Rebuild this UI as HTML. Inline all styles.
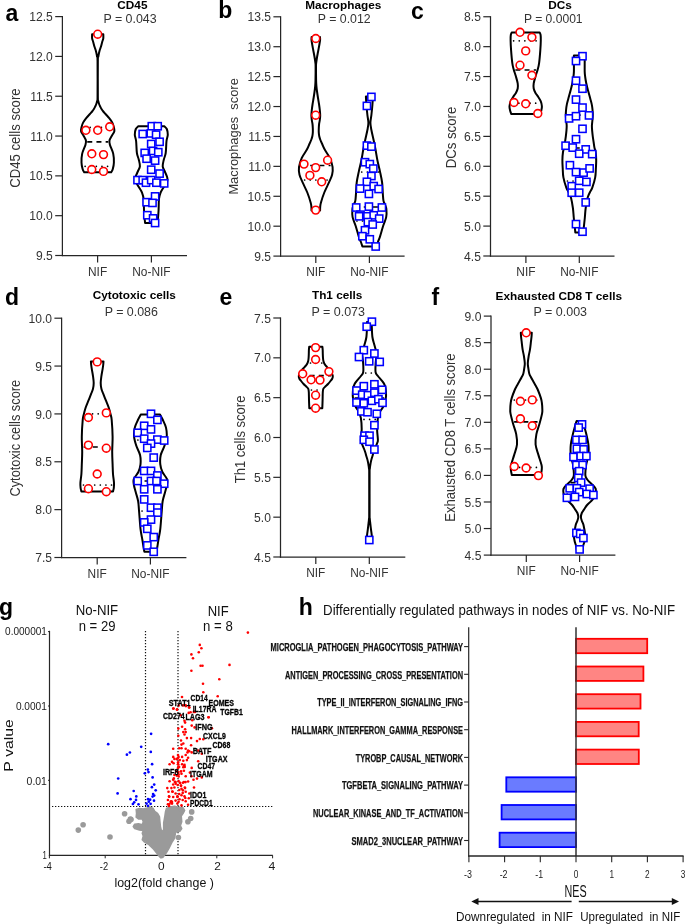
<!DOCTYPE html>
<html><head><meta charset="utf-8"><title>Figure</title>
<style>html,body{margin:0;padding:0;background:#fff;width:685px;height:924px;overflow:hidden}svg{display:block;will-change:transform}text{font-family:"Liberation Sans",sans-serif}</style>
</head><body>
<svg width="685" height="924" viewBox="0 0 685 924" font-family='"Liberation Sans", sans-serif'>
<rect width="685" height="924" fill="#fff"/>
<text x="5.50" y="20.60" font-size="23" fill="#000" font-weight="bold">a</text>
<text x="132.40" y="8.70" font-size="11.8" fill="#000" font-weight="bold" text-anchor="middle">CD45</text>
<text x="130.00" y="23.20" font-size="11.9" fill="#333" text-anchor="middle" textLength="53.20" lengthAdjust="spacingAndGlyphs">P = 0.043</text>
<line x1="62.40" y1="16.00" x2="62.40" y2="256.10" stroke="#262626" stroke-width="1.25"/>
<line x1="61.80" y1="255.50" x2="187.00" y2="255.50" stroke="#262626" stroke-width="1.25"/>
<line x1="55.20" y1="16.60" x2="62.40" y2="16.60" stroke="#262626" stroke-width="1.2"/>
<text x="52.80" y="21.20" font-size="12.1" fill="#333" text-anchor="end">12.5</text>
<line x1="55.20" y1="56.42" x2="62.40" y2="56.42" stroke="#262626" stroke-width="1.2"/>
<text x="52.80" y="61.02" font-size="12.1" fill="#333" text-anchor="end">12.0</text>
<line x1="55.20" y1="96.23" x2="62.40" y2="96.23" stroke="#262626" stroke-width="1.2"/>
<text x="52.80" y="100.83" font-size="12.1" fill="#333" text-anchor="end">11.5</text>
<line x1="55.20" y1="136.05" x2="62.40" y2="136.05" stroke="#262626" stroke-width="1.2"/>
<text x="52.80" y="140.65" font-size="12.1" fill="#333" text-anchor="end">11.0</text>
<line x1="55.20" y1="175.87" x2="62.40" y2="175.87" stroke="#262626" stroke-width="1.2"/>
<text x="52.80" y="180.47" font-size="12.1" fill="#333" text-anchor="end">10.5</text>
<line x1="55.20" y1="215.68" x2="62.40" y2="215.68" stroke="#262626" stroke-width="1.2"/>
<text x="52.80" y="220.28" font-size="12.1" fill="#333" text-anchor="end">10.0</text>
<line x1="55.20" y1="255.50" x2="62.40" y2="255.50" stroke="#262626" stroke-width="1.2"/>
<text x="52.80" y="260.10" font-size="12.1" fill="#333" text-anchor="end">9.5</text>
<line x1="97.60" y1="255.50" x2="97.60" y2="262.50" stroke="#262626" stroke-width="1.2"/>
<text x="97.60" y="275.80" font-size="11.9" fill="#333" text-anchor="middle">NIF</text>
<line x1="151.40" y1="255.50" x2="151.40" y2="262.50" stroke="#262626" stroke-width="1.2"/>
<text x="151.40" y="275.80" font-size="11.9" fill="#333" text-anchor="middle">No-NIF</text>
<text x="20.10" y="138.10" font-size="14.8" fill="#333" text-anchor="middle" textLength="99.40" lengthAdjust="spacingAndGlyphs" transform="rotate(-90 20.10 138.10)">CD45 cells score</text>
<path d="M92.10,34.20 C92.10,34.88 91.92,37.00 92.10,38.30 C92.28,39.60 92.80,40.58 93.20,42.00 C93.60,43.42 94.08,45.43 94.50,46.80 C94.92,48.17 95.37,49.08 95.70,50.20 C96.03,51.32 96.27,52.38 96.50,53.50 C96.73,54.62 96.93,55.65 97.10,56.90 C97.28,58.15 97.47,54.32 97.55,61.00 C97.62,67.68 97.62,90.33 97.55,97.00 C97.47,103.67 97.31,99.83 97.10,101.00 C96.89,102.17 96.62,103.08 96.30,104.00 C95.98,104.92 95.60,105.67 95.20,106.50 C94.80,107.33 94.42,108.17 93.90,109.00 C93.38,109.83 92.77,110.67 92.10,111.50 C91.43,112.33 90.88,112.90 89.90,114.00 C88.92,115.10 87.33,116.67 86.20,118.10 C85.07,119.53 83.87,121.12 83.10,122.60 C82.33,124.08 81.93,125.53 81.60,127.00 C81.27,128.47 80.75,129.92 81.10,131.40 C81.45,132.88 82.90,134.42 83.70,135.90 C84.50,137.38 85.60,138.83 85.90,140.30 C86.20,141.77 86.12,142.48 85.50,144.70 C84.88,146.92 82.87,150.63 82.20,153.60 C81.53,156.57 81.43,159.92 81.50,162.50 C81.57,165.08 82.15,167.47 82.60,169.10 C83.05,170.73 83.93,171.77 84.20,172.30 L111.20,172.30 C111.47,171.77 112.35,170.73 112.80,169.10 C113.25,167.47 113.83,165.08 113.90,162.50 C113.97,159.92 113.87,156.57 113.20,153.60 C112.53,150.63 110.52,146.92 109.90,144.70 C109.28,142.48 109.20,141.77 109.50,140.30 C109.80,138.83 110.90,137.38 111.70,135.90 C112.50,134.42 113.95,132.88 114.30,131.40 C114.65,129.92 114.13,128.47 113.80,127.00 C113.47,125.53 113.07,124.08 112.30,122.60 C111.53,121.12 110.33,119.53 109.20,118.10 C108.07,116.67 106.48,115.10 105.50,114.00 C104.52,112.90 103.97,112.33 103.30,111.50 C102.63,110.67 102.02,109.83 101.50,109.00 C100.98,108.17 100.60,107.33 100.20,106.50 C99.80,105.67 99.42,104.92 99.10,104.00 C98.78,103.08 98.51,102.17 98.30,101.00 C98.09,99.83 97.93,103.67 97.85,97.00 C97.78,90.33 97.78,67.68 97.85,61.00 C97.93,54.32 98.12,58.15 98.30,56.90 C98.47,55.65 98.67,54.62 98.90,53.50 C99.13,52.38 99.37,51.32 99.70,50.20 C100.03,49.08 100.48,48.17 100.90,46.80 C101.32,45.43 101.80,43.42 102.20,42.00 C102.60,40.58 103.12,39.60 103.30,38.30 C103.48,37.00 103.30,34.88 103.30,34.20 Z" fill="none" stroke="#000" stroke-width="2.0" stroke-linejoin="round"/>
<line x1="87.25" y1="141.90" x2="108.15" y2="141.90" stroke="#000" stroke-width="1.7" stroke-dasharray="5 4.2"/>
<line x1="85.13" y1="166.30" x2="111.77" y2="166.30" stroke="#000" stroke-width="1.7" stroke-dasharray="0.01 5.6" stroke-linecap="round"/>
<line x1="84.57" y1="127.30" x2="112.33" y2="127.30" stroke="#000" stroke-width="1.7" stroke-dasharray="0.01 5.6" stroke-linecap="round"/>
<circle cx="97.70" cy="34.20" r="3.9" fill="#fff" stroke="#f00" stroke-width="1.6"/>
<circle cx="85.90" cy="130.30" r="3.9" fill="#fff" stroke="#f00" stroke-width="1.6"/>
<circle cx="97.70" cy="130.30" r="3.9" fill="#fff" stroke="#f00" stroke-width="1.6"/>
<circle cx="109.70" cy="126.80" r="3.9" fill="#fff" stroke="#f00" stroke-width="1.6"/>
<circle cx="91.80" cy="153.80" r="3.9" fill="#fff" stroke="#f00" stroke-width="1.6"/>
<circle cx="103.50" cy="154.60" r="3.9" fill="#fff" stroke="#f00" stroke-width="1.6"/>
<circle cx="91.80" cy="169.50" r="3.9" fill="#fff" stroke="#f00" stroke-width="1.6"/>
<circle cx="103.50" cy="171.40" r="3.9" fill="#fff" stroke="#f00" stroke-width="1.6"/>
<path d="M138.30,126.20 C137.88,126.67 136.38,127.58 135.80,129.00 C135.22,130.42 134.75,132.70 134.80,134.70 C134.85,136.70 135.75,137.95 136.10,141.00 C136.45,144.05 136.45,149.88 136.90,153.00 C137.35,156.12 138.30,157.48 138.80,159.70 C139.30,161.92 140.07,164.33 139.90,166.30 C139.73,168.27 138.53,169.72 137.80,171.50 C137.07,173.28 135.92,175.42 135.50,177.00 C135.08,178.58 134.75,179.33 135.30,181.00 C135.85,182.67 137.68,185.07 138.80,187.00 C139.92,188.93 141.20,190.60 142.00,192.60 C142.80,194.60 143.27,196.10 143.60,199.00 C143.93,201.90 143.85,207.00 144.00,210.00 C144.15,213.00 144.32,214.83 144.50,217.00 C144.68,219.17 145.00,222.00 145.10,223.00 L157.50,223.00 C157.60,222.00 157.92,219.17 158.10,217.00 C158.28,214.83 158.45,213.00 158.60,210.00 C158.75,207.00 158.67,201.90 159.00,199.00 C159.33,196.10 159.80,194.60 160.60,192.60 C161.40,190.60 162.68,188.93 163.80,187.00 C164.92,185.07 166.75,182.67 167.30,181.00 C167.85,179.33 167.52,178.58 167.10,177.00 C166.68,175.42 165.53,173.28 164.80,171.50 C164.07,169.72 162.87,168.27 162.70,166.30 C162.53,164.33 163.30,161.92 163.80,159.70 C164.30,157.48 165.25,156.12 165.70,153.00 C166.15,149.88 166.15,144.05 166.50,141.00 C166.85,137.95 167.75,136.70 167.80,134.70 C167.85,132.70 167.38,130.42 166.80,129.00 C166.22,127.58 164.72,126.67 164.30,126.20 Z" fill="none" stroke="#000" stroke-width="2.0" stroke-linejoin="round"/>
<line x1="136.83" y1="180.50" x2="165.78" y2="180.50" stroke="#000" stroke-width="1.7" stroke-dasharray="5 4.2"/>
<rect x="148.20" y="122.60" width="7.2" height="7.2" fill="#fff" stroke="#00f" stroke-width="1.55"/>
<rect x="154.10" y="122.60" width="7.2" height="7.2" fill="#fff" stroke="#00f" stroke-width="1.55"/>
<rect x="139.10" y="130.40" width="7.2" height="7.2" fill="#fff" stroke="#00f" stroke-width="1.55"/>
<rect x="147.20" y="129.80" width="7.2" height="7.2" fill="#fff" stroke="#00f" stroke-width="1.55"/>
<rect x="152.50" y="131.10" width="7.2" height="7.2" fill="#fff" stroke="#00f" stroke-width="1.55"/>
<rect x="147.60" y="140.40" width="7.2" height="7.2" fill="#fff" stroke="#00f" stroke-width="1.55"/>
<rect x="156.00" y="138.20" width="7.2" height="7.2" fill="#fff" stroke="#00f" stroke-width="1.55"/>
<rect x="141.10" y="149.30" width="7.2" height="7.2" fill="#fff" stroke="#00f" stroke-width="1.55"/>
<rect x="149.50" y="147.30" width="7.2" height="7.2" fill="#fff" stroke="#00f" stroke-width="1.55"/>
<rect x="154.70" y="148.60" width="7.2" height="7.2" fill="#fff" stroke="#00f" stroke-width="1.55"/>
<rect x="143.00" y="155.10" width="7.2" height="7.2" fill="#fff" stroke="#00f" stroke-width="1.55"/>
<rect x="151.50" y="157.00" width="7.2" height="7.2" fill="#fff" stroke="#00f" stroke-width="1.55"/>
<rect x="147.60" y="166.10" width="7.2" height="7.2" fill="#fff" stroke="#00f" stroke-width="1.55"/>
<rect x="156.00" y="170.00" width="7.2" height="7.2" fill="#fff" stroke="#00f" stroke-width="1.55"/>
<rect x="133.90" y="176.50" width="7.2" height="7.2" fill="#fff" stroke="#00f" stroke-width="1.55"/>
<rect x="139.10" y="176.50" width="7.2" height="7.2" fill="#fff" stroke="#00f" stroke-width="1.55"/>
<rect x="142.40" y="179.10" width="7.2" height="7.2" fill="#fff" stroke="#00f" stroke-width="1.55"/>
<rect x="147.60" y="176.50" width="7.2" height="7.2" fill="#fff" stroke="#00f" stroke-width="1.55"/>
<rect x="152.80" y="179.10" width="7.2" height="7.2" fill="#fff" stroke="#00f" stroke-width="1.55"/>
<rect x="160.60" y="179.80" width="7.2" height="7.2" fill="#fff" stroke="#00f" stroke-width="1.55"/>
<rect x="151.50" y="192.80" width="7.2" height="7.2" fill="#fff" stroke="#00f" stroke-width="1.55"/>
<rect x="143.00" y="198.60" width="7.2" height="7.2" fill="#fff" stroke="#00f" stroke-width="1.55"/>
<rect x="148.90" y="199.30" width="7.2" height="7.2" fill="#fff" stroke="#00f" stroke-width="1.55"/>
<rect x="143.70" y="211.60" width="7.2" height="7.2" fill="#fff" stroke="#00f" stroke-width="1.55"/>
<rect x="149.50" y="214.80" width="7.2" height="7.2" fill="#fff" stroke="#00f" stroke-width="1.55"/>
<rect x="151.50" y="219.40" width="7.2" height="7.2" fill="#fff" stroke="#00f" stroke-width="1.55"/>
<text x="218.20" y="17.50" font-size="23" fill="#000" font-weight="bold">b</text>
<text x="343.30" y="8.60" font-size="11.8" fill="#000" font-weight="bold" text-anchor="middle">Macrophages</text>
<text x="344.20" y="22.90" font-size="11.9" fill="#333" text-anchor="middle" textLength="52.80" lengthAdjust="spacingAndGlyphs">P = 0.012</text>
<line x1="280.60" y1="16.20" x2="280.60" y2="256.70" stroke="#262626" stroke-width="1.25"/>
<line x1="280.00" y1="256.10" x2="404.60" y2="256.10" stroke="#262626" stroke-width="1.25"/>
<line x1="273.40" y1="16.80" x2="280.60" y2="16.80" stroke="#262626" stroke-width="1.2"/>
<text x="271.00" y="21.40" font-size="12.1" fill="#333" text-anchor="end">13.5</text>
<line x1="273.40" y1="46.71" x2="280.60" y2="46.71" stroke="#262626" stroke-width="1.2"/>
<text x="271.00" y="51.31" font-size="12.1" fill="#333" text-anchor="end">13.0</text>
<line x1="273.40" y1="76.62" x2="280.60" y2="76.62" stroke="#262626" stroke-width="1.2"/>
<text x="271.00" y="81.22" font-size="12.1" fill="#333" text-anchor="end">12.5</text>
<line x1="273.40" y1="106.54" x2="280.60" y2="106.54" stroke="#262626" stroke-width="1.2"/>
<text x="271.00" y="111.14" font-size="12.1" fill="#333" text-anchor="end">12.0</text>
<line x1="273.40" y1="136.45" x2="280.60" y2="136.45" stroke="#262626" stroke-width="1.2"/>
<text x="271.00" y="141.05" font-size="12.1" fill="#333" text-anchor="end">11.5</text>
<line x1="273.40" y1="166.36" x2="280.60" y2="166.36" stroke="#262626" stroke-width="1.2"/>
<text x="271.00" y="170.96" font-size="12.1" fill="#333" text-anchor="end">11.0</text>
<line x1="273.40" y1="196.28" x2="280.60" y2="196.28" stroke="#262626" stroke-width="1.2"/>
<text x="271.00" y="200.88" font-size="12.1" fill="#333" text-anchor="end">10.5</text>
<line x1="273.40" y1="226.19" x2="280.60" y2="226.19" stroke="#262626" stroke-width="1.2"/>
<text x="271.00" y="230.79" font-size="12.1" fill="#333" text-anchor="end">10.0</text>
<line x1="273.40" y1="256.10" x2="280.60" y2="256.10" stroke="#262626" stroke-width="1.2"/>
<text x="271.00" y="260.70" font-size="12.1" fill="#333" text-anchor="end">9.5</text>
<line x1="315.80" y1="256.10" x2="315.80" y2="263.10" stroke="#262626" stroke-width="1.2"/>
<text x="315.80" y="276.40" font-size="11.9" fill="#333" text-anchor="middle">NIF</text>
<line x1="369.40" y1="256.10" x2="369.40" y2="263.10" stroke="#262626" stroke-width="1.2"/>
<text x="369.40" y="276.40" font-size="11.9" fill="#333" text-anchor="middle">No-NIF</text>
<text x="237.90" y="136.40" font-size="13.2" fill="#333" text-anchor="middle" textLength="116.40" lengthAdjust="spacingAndGlyphs" transform="rotate(-90 237.90 136.40)">Macrophages  score</text>
<path d="M311.60,37.00 C311.58,37.50 311.38,38.67 311.50,40.00 C311.62,41.33 311.95,43.00 312.30,45.00 C312.65,47.00 313.20,49.83 313.60,52.00 C314.00,54.17 314.40,56.17 314.70,58.00 C315.00,59.83 315.25,61.67 315.40,63.00 C315.55,64.33 315.58,63.17 315.60,66.00 C315.62,68.83 315.57,76.67 315.50,80.00 C315.43,83.33 315.37,84.00 315.20,86.00 C315.03,88.00 314.77,90.00 314.50,92.00 C314.23,94.00 313.92,96.00 313.60,98.00 C313.28,100.00 312.90,102.00 312.60,104.00 C312.30,106.00 312.00,108.13 311.80,110.00 C311.60,111.87 311.40,113.53 311.40,115.20 C311.40,116.87 311.62,118.53 311.80,120.00 C311.98,121.47 312.33,122.67 312.50,124.00 C312.67,125.33 312.74,126.67 312.80,128.00 C312.86,129.33 312.92,130.67 312.85,132.00 C312.78,133.33 312.68,134.67 312.40,136.00 C312.12,137.33 311.70,138.67 311.20,140.00 C310.70,141.33 310.12,142.40 309.40,144.00 C308.68,145.60 308.17,147.28 306.90,149.60 C305.63,151.92 303.12,154.97 301.80,157.90 C300.48,160.83 299.38,164.38 299.00,167.20 C298.62,170.02 298.90,172.27 299.50,174.80 C300.10,177.33 301.30,179.45 302.60,182.40 C303.90,185.35 305.95,189.12 307.30,192.50 C308.65,195.88 310.02,200.28 310.70,202.70 C311.38,205.12 311.27,205.70 311.40,207.00 C311.53,208.30 311.48,209.92 311.50,210.50 L320.10,210.50 C320.12,209.92 320.07,208.30 320.20,207.00 C320.33,205.70 320.22,205.12 320.90,202.70 C321.58,200.28 322.95,195.88 324.30,192.50 C325.65,189.12 327.70,185.35 329.00,182.40 C330.30,179.45 331.50,177.33 332.10,174.80 C332.70,172.27 332.98,170.02 332.60,167.20 C332.22,164.38 331.12,160.83 329.80,157.90 C328.48,154.97 325.97,151.92 324.70,149.60 C323.43,147.28 322.92,145.60 322.20,144.00 C321.48,142.40 320.90,141.33 320.40,140.00 C319.90,138.67 319.48,137.33 319.20,136.00 C318.92,134.67 318.82,133.33 318.75,132.00 C318.68,130.67 318.74,129.33 318.80,128.00 C318.86,126.67 318.93,125.33 319.10,124.00 C319.27,122.67 319.62,121.47 319.80,120.00 C319.98,118.53 320.20,116.87 320.20,115.20 C320.20,113.53 320.00,111.87 319.80,110.00 C319.60,108.13 319.30,106.00 319.00,104.00 C318.70,102.00 318.32,100.00 318.00,98.00 C317.68,96.00 317.37,94.00 317.10,92.00 C316.83,90.00 316.57,88.00 316.40,86.00 C316.23,84.00 316.17,83.33 316.10,80.00 C316.03,76.67 315.98,68.83 316.00,66.00 C316.02,63.17 316.05,64.33 316.20,63.00 C316.35,61.67 316.60,59.83 316.90,58.00 C317.20,56.17 317.60,54.17 318.00,52.00 C318.40,49.83 318.95,47.00 319.30,45.00 C319.65,43.00 319.98,41.33 320.10,40.00 C320.22,38.67 320.02,37.50 320.00,37.00 Z" fill="none" stroke="#000" stroke-width="2.0" stroke-linejoin="round"/>
<line x1="301.01" y1="165.50" x2="330.59" y2="165.50" stroke="#000" stroke-width="1.7" stroke-dasharray="5 4.2"/>
<line x1="304.62" y1="180.00" x2="328.48" y2="180.00" stroke="#000" stroke-width="1.7" stroke-dasharray="0.01 5.6" stroke-linecap="round"/>
<circle cx="315.80" cy="38.50" r="3.9" fill="#fff" stroke="#f00" stroke-width="1.6"/>
<circle cx="315.70" cy="115.20" r="3.9" fill="#fff" stroke="#f00" stroke-width="1.6"/>
<circle cx="304.00" cy="164.10" r="3.9" fill="#fff" stroke="#f00" stroke-width="1.6"/>
<circle cx="327.60" cy="160.20" r="3.9" fill="#fff" stroke="#f00" stroke-width="1.6"/>
<circle cx="315.70" cy="167.60" r="3.9" fill="#fff" stroke="#f00" stroke-width="1.6"/>
<circle cx="309.90" cy="175.40" r="3.9" fill="#fff" stroke="#f00" stroke-width="1.6"/>
<circle cx="321.70" cy="181.80" r="3.9" fill="#fff" stroke="#f00" stroke-width="1.6"/>
<circle cx="315.70" cy="210.10" r="3.9" fill="#fff" stroke="#f00" stroke-width="1.6"/>
<path d="M365.90,96.50 C365.98,97.92 366.15,101.92 366.40,105.00 C366.65,108.08 367.07,112.03 367.40,115.00 C367.73,117.97 368.40,120.30 368.40,122.80 C368.40,125.30 367.93,127.13 367.40,130.00 C366.87,132.87 365.90,136.67 365.20,140.00 C364.50,143.33 363.85,146.53 363.20,150.00 C362.55,153.47 362.03,157.20 361.30,160.80 C360.57,164.40 359.57,167.98 358.80,171.60 C358.03,175.22 357.17,178.88 356.70,182.50 C356.23,186.12 356.23,190.23 356.00,193.30 C355.77,196.37 355.70,198.95 355.30,200.90 C354.90,202.85 354.08,203.57 353.60,205.00 C353.12,206.43 352.57,207.48 352.40,209.50 C352.23,211.52 352.07,214.38 352.60,217.10 C353.13,219.82 354.57,222.55 355.60,225.80 C356.63,229.05 357.92,233.90 358.80,236.60 C359.68,239.30 360.30,240.35 360.90,242.00 C361.50,243.65 362.15,245.75 362.40,246.50 L376.40,246.50 C376.65,245.75 377.30,243.65 377.90,242.00 C378.50,240.35 379.12,239.30 380.00,236.60 C380.88,233.90 382.17,229.05 383.20,225.80 C384.23,222.55 385.67,219.82 386.20,217.10 C386.73,214.38 386.57,211.52 386.40,209.50 C386.23,207.48 385.68,206.43 385.20,205.00 C384.72,203.57 383.90,202.85 383.50,200.90 C383.10,198.95 383.03,196.37 382.80,193.30 C382.57,190.23 382.57,186.12 382.10,182.50 C381.63,178.88 380.77,175.22 380.00,171.60 C379.23,167.98 378.23,164.40 377.50,160.80 C376.77,157.20 376.25,153.47 375.60,150.00 C374.95,146.53 374.30,143.33 373.60,140.00 C372.90,136.67 371.93,132.87 371.40,130.00 C370.87,127.13 370.40,125.30 370.40,122.80 C370.40,120.30 371.07,117.97 371.40,115.00 C371.73,112.03 372.15,108.08 372.40,105.00 C372.65,101.92 372.82,97.92 372.90,96.50 Z" fill="none" stroke="#000" stroke-width="2.0" stroke-linejoin="round"/>
<line x1="354.57" y1="207.00" x2="384.23" y2="207.00" stroke="#000" stroke-width="1.7" stroke-dasharray="5 4.2"/>
<line x1="361.72" y1="172.00" x2="378.58" y2="172.00" stroke="#000" stroke-width="1.7" stroke-dasharray="0.01 5.6" stroke-linecap="round"/>
<line x1="356.94" y1="221.00" x2="383.36" y2="221.00" stroke="#000" stroke-width="1.7" stroke-dasharray="0.01 5.6" stroke-linecap="round"/>
<rect x="367.80" y="93.30" width="7.2" height="7.2" fill="#fff" stroke="#00f" stroke-width="1.55"/>
<rect x="363.30" y="102.30" width="7.2" height="7.2" fill="#fff" stroke="#00f" stroke-width="1.55"/>
<rect x="363.30" y="142.00" width="7.2" height="7.2" fill="#fff" stroke="#00f" stroke-width="1.55"/>
<rect x="367.80" y="143.00" width="7.2" height="7.2" fill="#fff" stroke="#00f" stroke-width="1.55"/>
<rect x="361.40" y="158.60" width="7.2" height="7.2" fill="#fff" stroke="#00f" stroke-width="1.55"/>
<rect x="366.20" y="160.50" width="7.2" height="7.2" fill="#fff" stroke="#00f" stroke-width="1.55"/>
<rect x="369.70" y="165.00" width="7.2" height="7.2" fill="#fff" stroke="#00f" stroke-width="1.55"/>
<rect x="367.80" y="172.40" width="7.2" height="7.2" fill="#fff" stroke="#00f" stroke-width="1.55"/>
<rect x="363.30" y="178.20" width="7.2" height="7.2" fill="#fff" stroke="#00f" stroke-width="1.55"/>
<rect x="370.10" y="182.50" width="7.2" height="7.2" fill="#fff" stroke="#00f" stroke-width="1.55"/>
<rect x="356.50" y="185.00" width="7.2" height="7.2" fill="#fff" stroke="#00f" stroke-width="1.55"/>
<rect x="375.00" y="185.40" width="7.2" height="7.2" fill="#fff" stroke="#00f" stroke-width="1.55"/>
<rect x="365.30" y="190.30" width="7.2" height="7.2" fill="#fff" stroke="#00f" stroke-width="1.55"/>
<rect x="352.60" y="203.90" width="7.2" height="7.2" fill="#fff" stroke="#00f" stroke-width="1.55"/>
<rect x="365.30" y="203.00" width="7.2" height="7.2" fill="#fff" stroke="#00f" stroke-width="1.55"/>
<rect x="378.30" y="203.90" width="7.2" height="7.2" fill="#fff" stroke="#00f" stroke-width="1.55"/>
<rect x="356.90" y="211.10" width="7.2" height="7.2" fill="#fff" stroke="#00f" stroke-width="1.55"/>
<rect x="355.50" y="212.70" width="7.2" height="7.2" fill="#fff" stroke="#00f" stroke-width="1.55"/>
<rect x="363.90" y="212.70" width="7.2" height="7.2" fill="#fff" stroke="#00f" stroke-width="1.55"/>
<rect x="370.10" y="211.70" width="7.2" height="7.2" fill="#fff" stroke="#00f" stroke-width="1.55"/>
<rect x="375.60" y="215.00" width="7.2" height="7.2" fill="#fff" stroke="#00f" stroke-width="1.55"/>
<rect x="364.30" y="218.50" width="7.2" height="7.2" fill="#fff" stroke="#00f" stroke-width="1.55"/>
<rect x="369.10" y="220.90" width="7.2" height="7.2" fill="#fff" stroke="#00f" stroke-width="1.55"/>
<rect x="361.40" y="226.70" width="7.2" height="7.2" fill="#fff" stroke="#00f" stroke-width="1.55"/>
<rect x="358.80" y="232.60" width="7.2" height="7.2" fill="#fff" stroke="#00f" stroke-width="1.55"/>
<rect x="366.20" y="235.70" width="7.2" height="7.2" fill="#fff" stroke="#00f" stroke-width="1.55"/>
<rect x="372.10" y="242.90" width="7.2" height="7.2" fill="#fff" stroke="#00f" stroke-width="1.55"/>
<text x="411.00" y="19.30" font-size="23" fill="#000" font-weight="bold">c</text>
<text x="560.00" y="8.60" font-size="11.8" fill="#000" font-weight="bold" text-anchor="middle">DCs</text>
<text x="553.30" y="22.90" font-size="11.9" fill="#333" text-anchor="middle" textLength="58.60" lengthAdjust="spacingAndGlyphs">P = 0.0001</text>
<line x1="490.50" y1="16.15" x2="490.50" y2="256.60" stroke="#262626" stroke-width="1.25"/>
<line x1="489.90" y1="256.00" x2="614.50" y2="256.00" stroke="#262626" stroke-width="1.25"/>
<line x1="483.30" y1="16.75" x2="490.50" y2="16.75" stroke="#262626" stroke-width="1.2"/>
<text x="480.90" y="21.35" font-size="12.1" fill="#333" text-anchor="end">8.5</text>
<line x1="483.30" y1="46.66" x2="490.50" y2="46.66" stroke="#262626" stroke-width="1.2"/>
<text x="480.90" y="51.26" font-size="12.1" fill="#333" text-anchor="end">8.0</text>
<line x1="483.30" y1="76.56" x2="490.50" y2="76.56" stroke="#262626" stroke-width="1.2"/>
<text x="480.90" y="81.16" font-size="12.1" fill="#333" text-anchor="end">7.5</text>
<line x1="483.30" y1="106.47" x2="490.50" y2="106.47" stroke="#262626" stroke-width="1.2"/>
<text x="480.90" y="111.07" font-size="12.1" fill="#333" text-anchor="end">7.0</text>
<line x1="483.30" y1="136.38" x2="490.50" y2="136.38" stroke="#262626" stroke-width="1.2"/>
<text x="480.90" y="140.97" font-size="12.1" fill="#333" text-anchor="end">6.5</text>
<line x1="483.30" y1="166.28" x2="490.50" y2="166.28" stroke="#262626" stroke-width="1.2"/>
<text x="480.90" y="170.88" font-size="12.1" fill="#333" text-anchor="end">6.0</text>
<line x1="483.30" y1="196.19" x2="490.50" y2="196.19" stroke="#262626" stroke-width="1.2"/>
<text x="480.90" y="200.79" font-size="12.1" fill="#333" text-anchor="end">5.5</text>
<line x1="483.30" y1="226.09" x2="490.50" y2="226.09" stroke="#262626" stroke-width="1.2"/>
<text x="480.90" y="230.69" font-size="12.1" fill="#333" text-anchor="end">5.0</text>
<line x1="483.30" y1="256.00" x2="490.50" y2="256.00" stroke="#262626" stroke-width="1.2"/>
<text x="480.90" y="260.60" font-size="12.1" fill="#333" text-anchor="end">4.5</text>
<line x1="525.90" y1="256.00" x2="525.90" y2="263.00" stroke="#262626" stroke-width="1.2"/>
<text x="525.90" y="276.30" font-size="11.9" fill="#333" text-anchor="middle">NIF</text>
<line x1="579.30" y1="256.00" x2="579.30" y2="263.00" stroke="#262626" stroke-width="1.2"/>
<text x="579.30" y="276.30" font-size="11.9" fill="#333" text-anchor="middle">No-NIF</text>
<text x="455.50" y="137.50" font-size="14.8" fill="#333" text-anchor="middle" textLength="61.70" lengthAdjust="spacingAndGlyphs" transform="rotate(-90 455.50 137.50)">DCs score</text>
<path d="M511.70,32.50 C511.55,32.92 510.98,33.72 510.80,35.00 C510.62,36.28 510.55,37.63 510.60,40.20 C510.65,42.77 510.82,46.58 511.10,50.40 C511.38,54.22 511.87,59.92 512.30,63.10 C512.73,66.28 513.13,67.38 513.70,69.50 C514.27,71.62 515.03,73.48 515.70,75.80 C516.37,78.12 517.37,81.28 517.70,83.40 C518.03,85.52 518.00,86.90 517.70,88.50 C517.40,90.10 516.57,91.73 515.90,93.00 C515.23,94.27 514.57,94.73 513.70,96.10 C512.83,97.47 511.40,99.50 510.70,101.20 C510.00,102.90 509.60,104.75 509.50,106.30 C509.40,107.85 509.82,109.23 510.10,110.50 C510.38,111.77 511.02,113.33 511.20,113.90 L540.20,113.90 C540.38,113.33 541.02,111.77 541.30,110.50 C541.58,109.23 542.00,107.85 541.90,106.30 C541.80,104.75 541.40,102.90 540.70,101.20 C540.00,99.50 538.57,97.47 537.70,96.10 C536.83,94.73 536.17,94.27 535.50,93.00 C534.83,91.73 534.00,90.10 533.70,88.50 C533.40,86.90 533.37,85.52 533.70,83.40 C534.03,81.28 535.03,78.12 535.70,75.80 C536.37,73.48 537.13,71.62 537.70,69.50 C538.27,67.38 538.67,66.28 539.10,63.10 C539.53,59.92 540.02,54.22 540.30,50.40 C540.58,46.58 540.75,42.77 540.80,40.20 C540.85,37.63 540.78,36.28 540.60,35.00 C540.42,33.72 539.85,32.92 539.70,32.50 Z" fill="none" stroke="#000" stroke-width="2.0" stroke-linejoin="round"/>
<line x1="515.36" y1="70.00" x2="536.04" y2="70.00" stroke="#000" stroke-width="1.7" stroke-dasharray="5 4.2"/>
<line x1="513.63" y1="40.80" x2="539.27" y2="40.80" stroke="#000" stroke-width="1.7" stroke-dasharray="0.01 5.6" stroke-linecap="round"/>
<line x1="513.23" y1="103.20" x2="539.67" y2="103.20" stroke="#000" stroke-width="1.7" stroke-dasharray="0.01 5.6" stroke-linecap="round"/>
<circle cx="520.00" cy="32.30" r="3.9" fill="#fff" stroke="#f00" stroke-width="1.6"/>
<circle cx="531.90" cy="37.30" r="3.9" fill="#fff" stroke="#f00" stroke-width="1.6"/>
<circle cx="525.70" cy="50.90" r="3.9" fill="#fff" stroke="#f00" stroke-width="1.6"/>
<circle cx="520.00" cy="65.20" r="3.9" fill="#fff" stroke="#f00" stroke-width="1.6"/>
<circle cx="531.90" cy="75.30" r="3.9" fill="#fff" stroke="#f00" stroke-width="1.6"/>
<circle cx="514.00" cy="102.50" r="3.9" fill="#fff" stroke="#f00" stroke-width="1.6"/>
<circle cx="525.70" cy="103.80" r="3.9" fill="#fff" stroke="#f00" stroke-width="1.6"/>
<circle cx="537.80" cy="113.50" r="3.9" fill="#fff" stroke="#f00" stroke-width="1.6"/>
<path d="M573.90,55.50 C573.90,56.58 573.90,59.32 573.90,62.00 C573.90,64.68 573.98,69.10 573.90,71.60 C573.82,74.10 573.63,75.18 573.40,77.00 C573.17,78.82 572.87,80.67 572.50,82.50 C572.13,84.33 571.65,86.20 571.20,88.00 C570.75,89.80 570.28,91.52 569.80,93.30 C569.32,95.08 568.78,96.90 568.30,98.70 C567.82,100.50 567.27,102.30 566.90,104.10 C566.53,105.90 566.28,107.70 566.10,109.50 C565.92,111.30 565.78,113.07 565.80,114.90 C565.82,116.73 566.05,118.68 566.20,120.50 C566.35,122.32 566.67,124.02 566.70,125.80 C566.73,127.58 566.55,129.40 566.40,131.20 C566.25,133.00 566.03,134.80 565.80,136.60 C565.57,138.40 565.27,140.20 565.00,142.00 C564.73,143.80 564.53,145.73 564.20,147.40 C563.87,149.07 563.30,149.90 563.00,152.00 C562.70,154.10 562.45,157.33 562.40,160.00 C562.35,162.67 562.53,165.10 562.70,168.00 C562.87,170.90 562.80,174.13 563.40,177.40 C564.00,180.67 565.40,185.08 566.30,187.60 C567.20,190.12 568.02,190.80 568.80,192.50 C569.58,194.20 570.32,195.22 571.00,197.80 C571.68,200.38 572.43,204.63 572.90,208.00 C573.37,211.37 573.47,214.63 573.80,218.00 C574.13,221.37 574.65,225.78 574.90,228.20 C575.15,230.62 575.23,231.78 575.30,232.50 L583.30,232.50 C583.37,231.78 583.45,230.62 583.70,228.20 C583.95,225.78 584.47,221.37 584.80,218.00 C585.13,214.63 585.23,211.37 585.70,208.00 C586.17,204.63 586.92,200.38 587.60,197.80 C588.28,195.22 589.02,194.20 589.80,192.50 C590.58,190.80 591.40,190.12 592.30,187.60 C593.20,185.08 594.60,180.67 595.20,177.40 C595.80,174.13 595.73,170.90 595.90,168.00 C596.07,165.10 596.25,162.67 596.20,160.00 C596.15,157.33 595.90,154.10 595.60,152.00 C595.30,149.90 594.73,149.07 594.40,147.40 C594.07,145.73 593.87,143.80 593.60,142.00 C593.33,140.20 593.03,138.40 592.80,136.60 C592.57,134.80 592.35,133.00 592.20,131.20 C592.05,129.40 591.87,127.58 591.90,125.80 C591.93,124.02 592.25,122.32 592.40,120.50 C592.55,118.68 592.78,116.73 592.80,114.90 C592.82,113.07 592.68,111.30 592.50,109.50 C592.32,107.70 592.07,105.90 591.70,104.10 C591.33,102.30 590.78,100.50 590.30,98.70 C589.82,96.90 589.28,95.08 588.80,93.30 C588.32,91.52 587.85,89.80 587.40,88.00 C586.95,86.20 586.47,84.33 586.10,82.50 C585.73,80.67 585.43,78.82 585.20,77.00 C584.97,75.18 584.78,74.10 584.70,71.60 C584.62,69.10 584.70,64.68 584.70,62.00 C584.70,59.32 584.70,56.58 584.70,55.50 Z" fill="none" stroke="#000" stroke-width="2.0" stroke-linejoin="round"/>
<line x1="565.54" y1="148.00" x2="593.06" y2="148.00" stroke="#000" stroke-width="1.7" stroke-dasharray="5 4.2"/>
<line x1="568.81" y1="115.00" x2="591.29" y2="115.00" stroke="#000" stroke-width="1.7" stroke-dasharray="0.01 5.6" stroke-linecap="round"/>
<line x1="567.42" y1="181.00" x2="592.68" y2="181.00" stroke="#000" stroke-width="1.7" stroke-dasharray="0.01 5.6" stroke-linecap="round"/>
<rect x="578.90" y="52.60" width="7.2" height="7.2" fill="#fff" stroke="#00f" stroke-width="1.55"/>
<rect x="572.40" y="57.40" width="7.2" height="7.2" fill="#fff" stroke="#00f" stroke-width="1.55"/>
<rect x="572.40" y="77.10" width="7.2" height="7.2" fill="#fff" stroke="#00f" stroke-width="1.55"/>
<rect x="578.90" y="85.10" width="7.2" height="7.2" fill="#fff" stroke="#00f" stroke-width="1.55"/>
<rect x="572.40" y="96.00" width="7.2" height="7.2" fill="#fff" stroke="#00f" stroke-width="1.55"/>
<rect x="578.90" y="104.00" width="7.2" height="7.2" fill="#fff" stroke="#00f" stroke-width="1.55"/>
<rect x="565.50" y="114.80" width="7.2" height="7.2" fill="#fff" stroke="#00f" stroke-width="1.55"/>
<rect x="572.40" y="112.60" width="7.2" height="7.2" fill="#fff" stroke="#00f" stroke-width="1.55"/>
<rect x="585.40" y="111.80" width="7.2" height="7.2" fill="#fff" stroke="#00f" stroke-width="1.55"/>
<rect x="578.90" y="125.20" width="7.2" height="7.2" fill="#fff" stroke="#00f" stroke-width="1.55"/>
<rect x="572.40" y="135.60" width="7.2" height="7.2" fill="#fff" stroke="#00f" stroke-width="1.55"/>
<rect x="562.00" y="142.10" width="7.2" height="7.2" fill="#fff" stroke="#00f" stroke-width="1.55"/>
<rect x="569.10" y="144.00" width="7.2" height="7.2" fill="#fff" stroke="#00f" stroke-width="1.55"/>
<rect x="582.10" y="145.80" width="7.2" height="7.2" fill="#fff" stroke="#00f" stroke-width="1.55"/>
<rect x="575.60" y="150.10" width="7.2" height="7.2" fill="#fff" stroke="#00f" stroke-width="1.55"/>
<rect x="588.60" y="150.50" width="7.2" height="7.2" fill="#fff" stroke="#00f" stroke-width="1.55"/>
<rect x="566.30" y="161.60" width="7.2" height="7.2" fill="#fff" stroke="#00f" stroke-width="1.55"/>
<rect x="572.40" y="168.50" width="7.2" height="7.2" fill="#fff" stroke="#00f" stroke-width="1.55"/>
<rect x="580.00" y="169.00" width="7.2" height="7.2" fill="#fff" stroke="#00f" stroke-width="1.55"/>
<rect x="586.00" y="164.80" width="7.2" height="7.2" fill="#fff" stroke="#00f" stroke-width="1.55"/>
<rect x="575.60" y="177.20" width="7.2" height="7.2" fill="#fff" stroke="#00f" stroke-width="1.55"/>
<rect x="582.80" y="178.30" width="7.2" height="7.2" fill="#fff" stroke="#00f" stroke-width="1.55"/>
<rect x="568.10" y="182.60" width="7.2" height="7.2" fill="#fff" stroke="#00f" stroke-width="1.55"/>
<rect x="568.10" y="189.10" width="7.2" height="7.2" fill="#fff" stroke="#00f" stroke-width="1.55"/>
<rect x="575.60" y="189.10" width="7.2" height="7.2" fill="#fff" stroke="#00f" stroke-width="1.55"/>
<rect x="582.10" y="198.80" width="7.2" height="7.2" fill="#fff" stroke="#00f" stroke-width="1.55"/>
<rect x="572.40" y="220.50" width="7.2" height="7.2" fill="#fff" stroke="#00f" stroke-width="1.55"/>
<rect x="578.90" y="228.10" width="7.2" height="7.2" fill="#fff" stroke="#00f" stroke-width="1.55"/>
<text x="5.00" y="305.30" font-size="23" fill="#000" font-weight="bold">d</text>
<text x="134.30" y="299.30" font-size="11.8" fill="#000" font-weight="bold" text-anchor="middle">Cytotoxic cells</text>
<text x="131.30" y="316.30" font-size="11.9" fill="#333" text-anchor="middle" textLength="53.30" lengthAdjust="spacingAndGlyphs">P = 0.086</text>
<line x1="61.60" y1="317.60" x2="61.60" y2="558.10" stroke="#262626" stroke-width="1.25"/>
<line x1="61.00" y1="557.50" x2="186.40" y2="557.50" stroke="#262626" stroke-width="1.25"/>
<line x1="54.40" y1="318.20" x2="61.60" y2="318.20" stroke="#262626" stroke-width="1.2"/>
<text x="52.00" y="322.80" font-size="12.1" fill="#333" text-anchor="end">10.0</text>
<line x1="54.40" y1="366.06" x2="61.60" y2="366.06" stroke="#262626" stroke-width="1.2"/>
<text x="52.00" y="370.66" font-size="12.1" fill="#333" text-anchor="end">9.5</text>
<line x1="54.40" y1="413.92" x2="61.60" y2="413.92" stroke="#262626" stroke-width="1.2"/>
<text x="52.00" y="418.52" font-size="12.1" fill="#333" text-anchor="end">9.0</text>
<line x1="54.40" y1="461.78" x2="61.60" y2="461.78" stroke="#262626" stroke-width="1.2"/>
<text x="52.00" y="466.38" font-size="12.1" fill="#333" text-anchor="end">8.5</text>
<line x1="54.40" y1="509.64" x2="61.60" y2="509.64" stroke="#262626" stroke-width="1.2"/>
<text x="52.00" y="514.24" font-size="12.1" fill="#333" text-anchor="end">8.0</text>
<line x1="54.40" y1="557.50" x2="61.60" y2="557.50" stroke="#262626" stroke-width="1.2"/>
<text x="52.00" y="562.10" font-size="12.1" fill="#333" text-anchor="end">7.5</text>
<line x1="97.20" y1="557.50" x2="97.20" y2="564.50" stroke="#262626" stroke-width="1.2"/>
<text x="97.20" y="577.80" font-size="11.9" fill="#333" text-anchor="middle">NIF</text>
<line x1="150.40" y1="557.50" x2="150.40" y2="564.50" stroke="#262626" stroke-width="1.2"/>
<text x="150.40" y="577.80" font-size="11.9" fill="#333" text-anchor="middle">No-NIF</text>
<text x="19.70" y="438.20" font-size="13.9" fill="#333" text-anchor="middle" textLength="116.70" lengthAdjust="spacingAndGlyphs" transform="rotate(-90 19.70 438.20)">Cytotoxic cells score</text>
<path d="M90.90,361.50 C90.95,362.08 91.05,363.73 91.20,365.00 C91.35,366.27 91.50,367.25 91.80,369.10 C92.10,370.95 92.68,373.77 93.00,376.10 C93.32,378.43 93.70,380.98 93.70,383.10 C93.70,385.22 93.42,387.03 93.00,388.80 C92.58,390.57 91.97,391.72 91.20,393.70 C90.43,395.68 89.33,398.37 88.40,400.70 C87.47,403.03 86.38,405.35 85.60,407.70 C84.82,410.05 84.18,412.75 83.70,414.80 C83.22,416.85 83.02,416.33 82.70,420.00 C82.38,423.67 81.88,431.47 81.80,436.80 C81.72,442.13 82.20,447.40 82.20,452.00 C82.20,456.60 81.93,460.73 81.80,464.40 C81.67,468.07 81.63,470.93 81.40,474.00 C81.17,477.07 80.53,480.47 80.40,482.80 C80.27,485.13 80.43,486.55 80.60,488.00 C80.77,489.45 81.27,490.92 81.40,491.50 L113.00,491.50 C113.13,490.92 113.63,489.45 113.80,488.00 C113.97,486.55 114.13,485.13 114.00,482.80 C113.87,480.47 113.23,477.07 113.00,474.00 C112.77,470.93 112.73,468.07 112.60,464.40 C112.47,460.73 112.20,456.60 112.20,452.00 C112.20,447.40 112.68,442.13 112.60,436.80 C112.52,431.47 112.02,423.67 111.70,420.00 C111.38,416.33 111.18,416.85 110.70,414.80 C110.22,412.75 109.58,410.05 108.80,407.70 C108.02,405.35 106.93,403.03 106.00,400.70 C105.07,398.37 103.97,395.68 103.20,393.70 C102.43,391.72 101.82,390.57 101.40,388.80 C100.98,387.03 100.70,385.22 100.70,383.10 C100.70,380.98 101.08,378.43 101.40,376.10 C101.72,373.77 102.30,370.95 102.60,369.10 C102.90,367.25 103.05,366.27 103.20,365.00 C103.35,363.73 103.45,362.08 103.50,361.50 Z" fill="none" stroke="#000" stroke-width="2.0" stroke-linejoin="round"/>
<line x1="83.57" y1="447.00" x2="110.83" y2="447.00" stroke="#000" stroke-width="1.7" stroke-dasharray="5 4.2"/>
<line x1="86.97" y1="413.80" x2="108.93" y2="413.80" stroke="#000" stroke-width="1.7" stroke-dasharray="0.01 5.6" stroke-linecap="round"/>
<line x1="83.48" y1="485.00" x2="112.42" y2="485.00" stroke="#000" stroke-width="1.7" stroke-dasharray="0.01 5.6" stroke-linecap="round"/>
<circle cx="97.20" cy="361.90" r="3.9" fill="#fff" stroke="#f00" stroke-width="1.6"/>
<circle cx="88.40" cy="417.50" r="3.9" fill="#fff" stroke="#f00" stroke-width="1.6"/>
<circle cx="106.30" cy="412.90" r="3.9" fill="#fff" stroke="#f00" stroke-width="1.6"/>
<circle cx="88.40" cy="445.10" r="3.9" fill="#fff" stroke="#f00" stroke-width="1.6"/>
<circle cx="106.30" cy="448.20" r="3.9" fill="#fff" stroke="#f00" stroke-width="1.6"/>
<circle cx="97.20" cy="474.00" r="3.9" fill="#fff" stroke="#f00" stroke-width="1.6"/>
<circle cx="88.40" cy="488.70" r="3.9" fill="#fff" stroke="#f00" stroke-width="1.6"/>
<circle cx="106.30" cy="491.70" r="3.9" fill="#fff" stroke="#f00" stroke-width="1.6"/>
<path d="M140.80,414.40 C140.32,415.33 138.90,417.80 137.90,420.00 C136.90,422.20 135.43,424.80 134.80,427.60 C134.17,430.40 133.83,433.73 134.10,436.80 C134.37,439.87 135.40,442.93 136.40,446.00 C137.40,449.07 139.42,452.13 140.10,455.20 C140.78,458.27 140.78,461.60 140.50,464.40 C140.22,467.20 139.52,469.55 138.40,472.00 C137.28,474.45 134.55,476.93 133.80,479.10 C133.05,481.27 133.58,482.85 133.90,485.00 C134.22,487.15 135.00,489.33 135.70,492.00 C136.40,494.67 137.55,497.93 138.10,501.00 C138.65,504.07 138.60,505.77 139.00,510.40 C139.40,515.03 139.93,523.87 140.50,528.80 C141.07,533.73 141.90,536.93 142.40,540.00 C142.90,543.07 143.17,545.23 143.50,547.20 C143.83,549.17 144.25,551.03 144.40,551.80 L156.40,551.80 C156.55,551.03 156.97,549.17 157.30,547.20 C157.63,545.23 157.90,543.07 158.40,540.00 C158.90,536.93 159.73,533.73 160.30,528.80 C160.87,523.87 161.40,515.03 161.80,510.40 C162.20,505.77 162.15,504.07 162.70,501.00 C163.25,497.93 164.40,494.67 165.10,492.00 C165.80,489.33 166.58,487.15 166.90,485.00 C167.22,482.85 167.75,481.27 167.00,479.10 C166.25,476.93 163.52,474.45 162.40,472.00 C161.28,469.55 160.58,467.20 160.30,464.40 C160.02,461.60 160.02,458.27 160.70,455.20 C161.38,452.13 163.40,449.07 164.40,446.00 C165.40,442.93 166.43,439.87 166.70,436.80 C166.97,433.73 166.63,430.40 166.00,427.60 C165.37,424.80 163.90,422.20 162.90,420.00 C161.90,417.80 160.48,415.33 160.00,414.40 Z" fill="none" stroke="#000" stroke-width="2.0" stroke-linejoin="round"/>
<line x1="135.33" y1="481.00" x2="165.47" y2="481.00" stroke="#000" stroke-width="1.7" stroke-dasharray="5 4.2"/>
<line x1="137.90" y1="440.00" x2="164.40" y2="440.00" stroke="#000" stroke-width="1.7" stroke-dasharray="0.01 5.6" stroke-linecap="round"/>
<line x1="142.05" y1="511.00" x2="160.25" y2="511.00" stroke="#000" stroke-width="1.7" stroke-dasharray="0.01 5.6" stroke-linecap="round"/>
<rect x="147.40" y="410.20" width="7.2" height="7.2" fill="#fff" stroke="#00f" stroke-width="1.55"/>
<rect x="153.80" y="416.30" width="7.2" height="7.2" fill="#fff" stroke="#00f" stroke-width="1.55"/>
<rect x="140.60" y="422.20" width="7.2" height="7.2" fill="#fff" stroke="#00f" stroke-width="1.55"/>
<rect x="147.40" y="425.80" width="7.2" height="7.2" fill="#fff" stroke="#00f" stroke-width="1.55"/>
<rect x="134.10" y="429.20" width="7.2" height="7.2" fill="#fff" stroke="#00f" stroke-width="1.55"/>
<rect x="140.60" y="435.10" width="7.2" height="7.2" fill="#fff" stroke="#00f" stroke-width="1.55"/>
<rect x="153.80" y="436.00" width="7.2" height="7.2" fill="#fff" stroke="#00f" stroke-width="1.55"/>
<rect x="160.60" y="436.90" width="7.2" height="7.2" fill="#fff" stroke="#00f" stroke-width="1.55"/>
<rect x="147.40" y="440.00" width="7.2" height="7.2" fill="#fff" stroke="#00f" stroke-width="1.55"/>
<rect x="143.70" y="444.30" width="7.2" height="7.2" fill="#fff" stroke="#00f" stroke-width="1.55"/>
<rect x="150.10" y="454.00" width="7.2" height="7.2" fill="#fff" stroke="#00f" stroke-width="1.55"/>
<rect x="140.60" y="467.30" width="7.2" height="7.2" fill="#fff" stroke="#00f" stroke-width="1.55"/>
<rect x="147.40" y="467.30" width="7.2" height="7.2" fill="#fff" stroke="#00f" stroke-width="1.55"/>
<rect x="153.80" y="471.90" width="7.2" height="7.2" fill="#fff" stroke="#00f" stroke-width="1.55"/>
<rect x="134.10" y="477.40" width="7.2" height="7.2" fill="#fff" stroke="#00f" stroke-width="1.55"/>
<rect x="147.40" y="477.40" width="7.2" height="7.2" fill="#fff" stroke="#00f" stroke-width="1.55"/>
<rect x="152.90" y="477.40" width="7.2" height="7.2" fill="#fff" stroke="#00f" stroke-width="1.55"/>
<rect x="160.60" y="480.10" width="7.2" height="7.2" fill="#fff" stroke="#00f" stroke-width="1.55"/>
<rect x="140.60" y="485.70" width="7.2" height="7.2" fill="#fff" stroke="#00f" stroke-width="1.55"/>
<rect x="153.80" y="485.70" width="7.2" height="7.2" fill="#fff" stroke="#00f" stroke-width="1.55"/>
<rect x="140.60" y="495.80" width="7.2" height="7.2" fill="#fff" stroke="#00f" stroke-width="1.55"/>
<rect x="147.40" y="504.10" width="7.2" height="7.2" fill="#fff" stroke="#00f" stroke-width="1.55"/>
<rect x="153.80" y="504.10" width="7.2" height="7.2" fill="#fff" stroke="#00f" stroke-width="1.55"/>
<rect x="153.80" y="509.00" width="7.2" height="7.2" fill="#fff" stroke="#00f" stroke-width="1.55"/>
<rect x="147.40" y="516.00" width="7.2" height="7.2" fill="#fff" stroke="#00f" stroke-width="1.55"/>
<rect x="140.60" y="518.80" width="7.2" height="7.2" fill="#fff" stroke="#00f" stroke-width="1.55"/>
<rect x="143.70" y="525.20" width="7.2" height="7.2" fill="#fff" stroke="#00f" stroke-width="1.55"/>
<rect x="150.10" y="533.50" width="7.2" height="7.2" fill="#fff" stroke="#00f" stroke-width="1.55"/>
<rect x="143.70" y="541.80" width="7.2" height="7.2" fill="#fff" stroke="#00f" stroke-width="1.55"/>
<rect x="150.10" y="548.20" width="7.2" height="7.2" fill="#fff" stroke="#00f" stroke-width="1.55"/>
<text x="219.50" y="305.30" font-size="23" fill="#000" font-weight="bold">e</text>
<text x="337.20" y="298.80" font-size="11.8" fill="#000" font-weight="bold" text-anchor="middle">Th1 cells</text>
<text x="338.20" y="315.90" font-size="11.9" fill="#333" text-anchor="middle" textLength="53.60" lengthAdjust="spacingAndGlyphs">P = 0.073</text>
<line x1="280.50" y1="317.40" x2="280.50" y2="557.60" stroke="#262626" stroke-width="1.25"/>
<line x1="279.90" y1="557.00" x2="405.30" y2="557.00" stroke="#262626" stroke-width="1.25"/>
<line x1="273.30" y1="318.00" x2="280.50" y2="318.00" stroke="#262626" stroke-width="1.2"/>
<text x="270.90" y="322.60" font-size="12.1" fill="#333" text-anchor="end">7.5</text>
<line x1="273.30" y1="357.83" x2="280.50" y2="357.83" stroke="#262626" stroke-width="1.2"/>
<text x="270.90" y="362.43" font-size="12.1" fill="#333" text-anchor="end">7.0</text>
<line x1="273.30" y1="397.67" x2="280.50" y2="397.67" stroke="#262626" stroke-width="1.2"/>
<text x="270.90" y="402.27" font-size="12.1" fill="#333" text-anchor="end">6.5</text>
<line x1="273.30" y1="437.50" x2="280.50" y2="437.50" stroke="#262626" stroke-width="1.2"/>
<text x="270.90" y="442.10" font-size="12.1" fill="#333" text-anchor="end">6.0</text>
<line x1="273.30" y1="477.33" x2="280.50" y2="477.33" stroke="#262626" stroke-width="1.2"/>
<text x="270.90" y="481.93" font-size="12.1" fill="#333" text-anchor="end">5.5</text>
<line x1="273.30" y1="517.17" x2="280.50" y2="517.17" stroke="#262626" stroke-width="1.2"/>
<text x="270.90" y="521.77" font-size="12.1" fill="#333" text-anchor="end">5.0</text>
<line x1="273.30" y1="557.00" x2="280.50" y2="557.00" stroke="#262626" stroke-width="1.2"/>
<text x="270.90" y="561.60" font-size="12.1" fill="#333" text-anchor="end">4.5</text>
<line x1="315.80" y1="557.00" x2="315.80" y2="564.00" stroke="#262626" stroke-width="1.2"/>
<text x="315.80" y="577.30" font-size="11.9" fill="#333" text-anchor="middle">NIF</text>
<line x1="369.30" y1="557.00" x2="369.30" y2="564.00" stroke="#262626" stroke-width="1.2"/>
<text x="369.30" y="577.30" font-size="11.9" fill="#333" text-anchor="middle">No-NIF</text>
<text x="245.10" y="439.40" font-size="14.0" fill="#333" text-anchor="middle" textLength="87.60" lengthAdjust="spacingAndGlyphs" transform="rotate(-90 245.10 439.40)">Th1 cells score</text>
<path d="M309.20,346.80 C309.15,347.33 308.97,348.80 308.90,350.00 C308.83,351.20 308.85,352.67 308.80,354.00 C308.75,355.33 308.70,356.83 308.60,358.00 C308.50,359.17 308.42,360.07 308.20,361.00 C307.98,361.93 307.75,362.77 307.30,363.60 C306.85,364.43 306.08,365.28 305.50,366.00 C304.92,366.72 304.38,367.23 303.80,367.90 C303.22,368.57 302.63,369.15 302.00,370.00 C301.37,370.85 300.53,372.00 300.00,373.00 C299.47,374.00 298.92,375.08 298.80,376.00 C298.68,376.92 298.92,377.67 299.30,378.50 C299.68,379.33 300.38,380.08 301.10,381.00 C301.82,381.92 302.75,383.08 303.60,384.00 C304.45,384.92 305.43,385.72 306.20,386.50 C306.97,387.28 307.77,387.78 308.20,388.70 C308.63,389.62 308.67,390.12 308.80,392.00 C308.93,393.88 308.92,397.30 309.00,400.00 C309.08,402.70 309.25,406.83 309.30,408.20 L322.30,408.20 C322.35,406.83 322.52,402.70 322.60,400.00 C322.68,397.30 322.67,393.88 322.80,392.00 C322.93,390.12 322.97,389.62 323.40,388.70 C323.83,387.78 324.63,387.28 325.40,386.50 C326.17,385.72 327.15,384.92 328.00,384.00 C328.85,383.08 329.78,381.92 330.50,381.00 C331.22,380.08 331.92,379.33 332.30,378.50 C332.68,377.67 332.92,376.92 332.80,376.00 C332.68,375.08 332.13,374.00 331.60,373.00 C331.07,372.00 330.23,370.85 329.60,370.00 C328.97,369.15 328.38,368.57 327.80,367.90 C327.22,367.23 326.68,366.72 326.10,366.00 C325.52,365.28 324.75,364.43 324.30,363.60 C323.85,362.77 323.62,361.93 323.40,361.00 C323.18,360.07 323.10,359.17 323.00,358.00 C322.90,356.83 322.85,355.33 322.80,354.00 C322.75,352.67 322.77,351.20 322.70,350.00 C322.63,348.80 322.45,347.33 322.40,346.80 Z" fill="none" stroke="#000" stroke-width="2.0" stroke-linejoin="round"/>
<line x1="300.42" y1="375.70" x2="331.18" y2="375.70" stroke="#000" stroke-width="1.7" stroke-dasharray="5 4.2"/>
<line x1="310.51" y1="363.00" x2="322.59" y2="363.00" stroke="#000" stroke-width="1.7" stroke-dasharray="0.01 5.6" stroke-linecap="round"/>
<line x1="311.44" y1="390.00" x2="321.66" y2="390.00" stroke="#000" stroke-width="1.7" stroke-dasharray="0.01 5.6" stroke-linecap="round"/>
<circle cx="315.60" cy="347.60" r="3.9" fill="#fff" stroke="#f00" stroke-width="1.6"/>
<circle cx="315.60" cy="359.50" r="3.9" fill="#fff" stroke="#f00" stroke-width="1.6"/>
<circle cx="302.70" cy="373.80" r="3.9" fill="#fff" stroke="#f00" stroke-width="1.6"/>
<circle cx="328.90" cy="371.60" r="3.9" fill="#fff" stroke="#f00" stroke-width="1.6"/>
<circle cx="311.10" cy="379.80" r="3.9" fill="#fff" stroke="#f00" stroke-width="1.6"/>
<circle cx="320.00" cy="380.10" r="3.9" fill="#fff" stroke="#f00" stroke-width="1.6"/>
<circle cx="315.60" cy="395.20" r="3.9" fill="#fff" stroke="#f00" stroke-width="1.6"/>
<circle cx="315.60" cy="408.20" r="3.9" fill="#fff" stroke="#f00" stroke-width="1.6"/>
<path d="M367.00,322.00 C367.00,322.70 367.10,323.70 367.00,326.20 C366.90,328.70 366.83,333.85 366.40,337.00 C365.97,340.15 365.10,342.40 364.40,345.10 C363.70,347.80 362.50,351.05 362.20,353.20 C361.90,355.35 362.43,356.20 362.60,358.00 C362.77,359.80 363.10,361.63 363.20,364.00 C363.30,366.37 363.58,370.20 363.20,372.20 C362.82,374.20 361.90,374.65 360.90,376.00 C359.90,377.35 358.25,378.97 357.20,380.30 C356.15,381.63 355.27,382.65 354.60,384.00 C353.93,385.35 353.50,386.32 353.20,388.40 C352.90,390.48 352.68,394.23 352.80,396.50 C352.92,398.77 353.38,400.20 353.90,402.00 C354.42,403.80 355.07,405.63 355.90,407.30 C356.73,408.97 358.07,410.20 358.90,412.00 C359.73,413.80 360.43,415.28 360.90,418.10 C361.37,420.92 361.70,425.28 361.70,428.90 C361.70,432.52 360.92,437.45 360.90,439.80 C360.88,442.15 361.28,441.97 361.60,443.00 C361.92,444.03 362.35,444.92 362.80,446.00 C363.25,447.08 363.85,448.33 364.30,449.50 C364.75,450.67 365.17,451.92 365.50,453.00 C365.83,454.08 366.03,455.08 366.30,456.00 C366.57,456.92 366.85,457.63 367.10,458.50 C367.35,459.37 367.60,460.32 367.80,461.20 C368.00,462.08 368.15,462.93 368.30,463.80 C368.45,464.67 368.58,465.53 368.70,466.40 C368.82,467.27 368.92,468.13 369.00,469.00 C369.08,469.87 369.17,463.77 369.20,471.60 C369.23,479.43 369.23,508.22 369.20,516.00 C369.17,523.78 369.12,517.47 369.05,518.30 C368.98,519.13 368.89,520.13 368.80,521.00 C368.71,521.87 368.65,522.22 368.50,523.50 C368.35,524.78 368.12,526.97 367.90,528.70 C367.68,530.43 367.37,532.52 367.20,533.90 C367.03,535.28 366.97,536.03 366.90,537.00 C366.83,537.97 366.82,539.25 366.80,539.70 L372.00,539.70 C371.98,539.25 371.97,537.97 371.90,537.00 C371.83,536.03 371.77,535.28 371.60,533.90 C371.43,532.52 371.12,530.43 370.90,528.70 C370.68,526.97 370.45,524.78 370.30,523.50 C370.15,522.22 370.09,521.87 370.00,521.00 C369.91,520.13 369.82,519.13 369.75,518.30 C369.68,517.47 369.62,523.78 369.60,516.00 C369.57,508.22 369.57,479.43 369.60,471.60 C369.63,463.77 369.72,469.87 369.80,469.00 C369.88,468.13 369.98,467.27 370.10,466.40 C370.22,465.53 370.35,464.67 370.50,463.80 C370.65,462.93 370.80,462.08 371.00,461.20 C371.20,460.32 371.45,459.37 371.70,458.50 C371.95,457.63 372.23,456.92 372.50,456.00 C372.77,455.08 372.97,454.08 373.30,453.00 C373.63,451.92 374.05,450.67 374.50,449.50 C374.95,448.33 375.55,447.08 376.00,446.00 C376.45,444.92 376.88,444.03 377.20,443.00 C377.52,441.97 377.92,442.15 377.90,439.80 C377.88,437.45 377.10,432.52 377.10,428.90 C377.10,425.28 377.43,420.92 377.90,418.10 C378.37,415.28 379.07,413.80 379.90,412.00 C380.73,410.20 382.07,408.97 382.90,407.30 C383.73,405.63 384.38,403.80 384.90,402.00 C385.42,400.20 385.88,398.77 386.00,396.50 C386.12,394.23 385.90,390.48 385.60,388.40 C385.30,386.32 384.87,385.35 384.20,384.00 C383.53,382.65 382.65,381.63 381.60,380.30 C380.55,378.97 378.90,377.35 377.90,376.00 C376.90,374.65 375.98,374.20 375.60,372.20 C375.22,370.20 375.50,366.37 375.60,364.00 C375.70,361.63 376.03,359.80 376.20,358.00 C376.37,356.20 376.90,355.35 376.60,353.20 C376.30,351.05 375.10,347.80 374.40,345.10 C373.70,342.40 372.83,340.15 372.40,337.00 C371.97,333.85 371.90,328.70 371.80,326.20 C371.70,323.70 371.80,322.70 371.80,322.00 Z" fill="none" stroke="#000" stroke-width="2.0" stroke-linejoin="round"/>
<line x1="354.60" y1="398.00" x2="384.20" y2="398.00" stroke="#000" stroke-width="1.7" stroke-dasharray="5 4.2"/>
<line x1="365.72" y1="373.00" x2="374.58" y2="373.00" stroke="#000" stroke-width="1.7" stroke-dasharray="0.01 5.6" stroke-linecap="round"/>
<line x1="364.00" y1="419.40" x2="376.30" y2="419.40" stroke="#000" stroke-width="1.7" stroke-dasharray="0.01 5.6" stroke-linecap="round"/>
<rect x="368.30" y="318.10" width="7.2" height="7.2" fill="#fff" stroke="#00f" stroke-width="1.55"/>
<rect x="363.10" y="323.10" width="7.2" height="7.2" fill="#fff" stroke="#00f" stroke-width="1.55"/>
<rect x="360.20" y="346.60" width="7.2" height="7.2" fill="#fff" stroke="#00f" stroke-width="1.55"/>
<rect x="355.40" y="353.40" width="7.2" height="7.2" fill="#fff" stroke="#00f" stroke-width="1.55"/>
<rect x="370.80" y="349.90" width="7.2" height="7.2" fill="#fff" stroke="#00f" stroke-width="1.55"/>
<rect x="365.60" y="357.70" width="7.2" height="7.2" fill="#fff" stroke="#00f" stroke-width="1.55"/>
<rect x="376.10" y="358.30" width="7.2" height="7.2" fill="#fff" stroke="#00f" stroke-width="1.55"/>
<rect x="360.20" y="382.60" width="7.2" height="7.2" fill="#fff" stroke="#00f" stroke-width="1.55"/>
<rect x="370.80" y="380.70" width="7.2" height="7.2" fill="#fff" stroke="#00f" stroke-width="1.55"/>
<rect x="378.50" y="386.20" width="7.2" height="7.2" fill="#fff" stroke="#00f" stroke-width="1.55"/>
<rect x="352.90" y="387.00" width="7.2" height="7.2" fill="#fff" stroke="#00f" stroke-width="1.55"/>
<rect x="358.60" y="391.10" width="7.2" height="7.2" fill="#fff" stroke="#00f" stroke-width="1.55"/>
<rect x="364.30" y="391.60" width="7.2" height="7.2" fill="#fff" stroke="#00f" stroke-width="1.55"/>
<rect x="370.80" y="389.10" width="7.2" height="7.2" fill="#fff" stroke="#00f" stroke-width="1.55"/>
<rect x="352.90" y="398.90" width="7.2" height="7.2" fill="#fff" stroke="#00f" stroke-width="1.55"/>
<rect x="360.20" y="399.70" width="7.2" height="7.2" fill="#fff" stroke="#00f" stroke-width="1.55"/>
<rect x="368.30" y="397.20" width="7.2" height="7.2" fill="#fff" stroke="#00f" stroke-width="1.55"/>
<rect x="374.80" y="395.60" width="7.2" height="7.2" fill="#fff" stroke="#00f" stroke-width="1.55"/>
<rect x="378.90" y="399.20" width="7.2" height="7.2" fill="#fff" stroke="#00f" stroke-width="1.55"/>
<rect x="357.80" y="407.80" width="7.2" height="7.2" fill="#fff" stroke="#00f" stroke-width="1.55"/>
<rect x="363.90" y="408.60" width="7.2" height="7.2" fill="#fff" stroke="#00f" stroke-width="1.55"/>
<rect x="373.20" y="410.20" width="7.2" height="7.2" fill="#fff" stroke="#00f" stroke-width="1.55"/>
<rect x="370.80" y="421.60" width="7.2" height="7.2" fill="#fff" stroke="#00f" stroke-width="1.55"/>
<rect x="361.00" y="432.10" width="7.2" height="7.2" fill="#fff" stroke="#00f" stroke-width="1.55"/>
<rect x="365.90" y="432.10" width="7.2" height="7.2" fill="#fff" stroke="#00f" stroke-width="1.55"/>
<rect x="360.20" y="436.20" width="7.2" height="7.2" fill="#fff" stroke="#00f" stroke-width="1.55"/>
<rect x="365.90" y="438.10" width="7.2" height="7.2" fill="#fff" stroke="#00f" stroke-width="1.55"/>
<rect x="370.80" y="445.90" width="7.2" height="7.2" fill="#fff" stroke="#00f" stroke-width="1.55"/>
<rect x="365.70" y="536.40" width="7.2" height="7.2" fill="#fff" stroke="#00f" stroke-width="1.55"/>
<text x="431.50" y="305.30" font-size="23" fill="#000" font-weight="bold">f</text>
<text x="558.80" y="299.50" font-size="11.8" fill="#000" font-weight="bold" text-anchor="middle">Exhausted CD8 T cells</text>
<text x="560.30" y="316.30" font-size="11.9" fill="#333" text-anchor="middle" textLength="53.50" lengthAdjust="spacingAndGlyphs">P = 0.003</text>
<line x1="491.00" y1="315.50" x2="491.00" y2="555.70" stroke="#262626" stroke-width="1.25"/>
<line x1="490.40" y1="555.10" x2="615.40" y2="555.10" stroke="#262626" stroke-width="1.25"/>
<line x1="483.80" y1="316.10" x2="491.00" y2="316.10" stroke="#262626" stroke-width="1.2"/>
<text x="481.40" y="320.70" font-size="12.1" fill="#333" text-anchor="end">9.0</text>
<line x1="483.80" y1="342.66" x2="491.00" y2="342.66" stroke="#262626" stroke-width="1.2"/>
<text x="481.40" y="347.26" font-size="12.1" fill="#333" text-anchor="end">8.5</text>
<line x1="483.80" y1="369.21" x2="491.00" y2="369.21" stroke="#262626" stroke-width="1.2"/>
<text x="481.40" y="373.81" font-size="12.1" fill="#333" text-anchor="end">8.0</text>
<line x1="483.80" y1="395.77" x2="491.00" y2="395.77" stroke="#262626" stroke-width="1.2"/>
<text x="481.40" y="400.37" font-size="12.1" fill="#333" text-anchor="end">7.5</text>
<line x1="483.80" y1="422.32" x2="491.00" y2="422.32" stroke="#262626" stroke-width="1.2"/>
<text x="481.40" y="426.92" font-size="12.1" fill="#333" text-anchor="end">7.0</text>
<line x1="483.80" y1="448.88" x2="491.00" y2="448.88" stroke="#262626" stroke-width="1.2"/>
<text x="481.40" y="453.48" font-size="12.1" fill="#333" text-anchor="end">6.5</text>
<line x1="483.80" y1="475.43" x2="491.00" y2="475.43" stroke="#262626" stroke-width="1.2"/>
<text x="481.40" y="480.03" font-size="12.1" fill="#333" text-anchor="end">6.0</text>
<line x1="483.80" y1="501.99" x2="491.00" y2="501.99" stroke="#262626" stroke-width="1.2"/>
<text x="481.40" y="506.59" font-size="12.1" fill="#333" text-anchor="end">5.5</text>
<line x1="483.80" y1="528.54" x2="491.00" y2="528.54" stroke="#262626" stroke-width="1.2"/>
<text x="481.40" y="533.14" font-size="12.1" fill="#333" text-anchor="end">5.0</text>
<line x1="483.80" y1="555.10" x2="491.00" y2="555.10" stroke="#262626" stroke-width="1.2"/>
<text x="481.40" y="559.70" font-size="12.1" fill="#333" text-anchor="end">4.5</text>
<line x1="526.30" y1="555.10" x2="526.30" y2="562.10" stroke="#262626" stroke-width="1.2"/>
<text x="526.30" y="575.40" font-size="11.9" fill="#333" text-anchor="middle">NIF</text>
<line x1="579.60" y1="555.10" x2="579.60" y2="562.10" stroke="#262626" stroke-width="1.2"/>
<text x="579.60" y="575.40" font-size="11.9" fill="#333" text-anchor="middle">No-NIF</text>
<text x="455.50" y="437.60" font-size="14.3" fill="#333" text-anchor="middle" textLength="168.40" lengthAdjust="spacingAndGlyphs" transform="rotate(-90 455.50 437.60)">Exhausted CD8 T cells score</text>
<path d="M520.80,332.80 C520.85,333.50 520.97,335.60 521.10,337.00 C521.23,338.40 521.35,339.13 521.60,341.20 C521.85,343.27 522.22,346.93 522.60,349.40 C522.98,351.87 523.53,353.70 523.90,356.00 C524.27,358.30 524.73,361.20 524.80,363.20 C524.87,365.20 524.55,366.25 524.30,368.00 C524.05,369.75 523.77,372.12 523.30,373.70 C522.83,375.28 522.22,376.13 521.50,377.50 C520.78,378.87 519.80,380.48 519.00,381.90 C518.20,383.32 517.42,384.65 516.70,386.00 C515.98,387.35 515.53,387.98 514.70,390.00 C513.87,392.02 512.37,395.93 511.70,398.10 C511.03,400.27 510.93,401.25 510.70,403.00 C510.47,404.75 510.33,406.87 510.30,408.60 C510.27,410.33 510.03,410.87 510.50,413.40 C510.97,415.93 512.15,420.35 513.10,423.80 C514.05,427.25 515.55,430.65 516.20,434.10 C516.85,437.55 517.33,441.03 517.00,444.50 C516.67,447.97 515.20,451.43 514.20,454.90 C513.20,458.37 511.55,462.78 511.00,465.30 C510.45,467.82 510.77,468.38 510.90,470.00 C511.03,471.62 511.65,474.17 511.80,475.00 L540.80,475.00 C540.95,474.17 541.57,471.62 541.70,470.00 C541.83,468.38 542.15,467.82 541.60,465.30 C541.05,462.78 539.40,458.37 538.40,454.90 C537.40,451.43 535.93,447.97 535.60,444.50 C535.27,441.03 535.75,437.55 536.40,434.10 C537.05,430.65 538.55,427.25 539.50,423.80 C540.45,420.35 541.63,415.93 542.10,413.40 C542.57,410.87 542.33,410.33 542.30,408.60 C542.27,406.87 542.13,404.75 541.90,403.00 C541.67,401.25 541.57,400.27 540.90,398.10 C540.23,395.93 538.73,392.02 537.90,390.00 C537.07,387.98 536.62,387.35 535.90,386.00 C535.18,384.65 534.40,383.32 533.60,381.90 C532.80,380.48 531.82,378.87 531.10,377.50 C530.38,376.13 529.77,375.28 529.30,373.70 C528.83,372.12 528.55,369.75 528.30,368.00 C528.05,366.25 527.73,365.20 527.80,363.20 C527.87,361.20 528.33,358.30 528.70,356.00 C529.07,353.70 529.62,351.87 530.00,349.40 C530.38,346.93 530.75,343.27 531.00,341.20 C531.25,339.13 531.37,338.40 531.50,337.00 C531.63,335.60 531.75,333.50 531.80,332.80 Z" fill="none" stroke="#000" stroke-width="2.0" stroke-linejoin="round"/>
<line x1="514.12" y1="421.90" x2="538.47" y2="421.90" stroke="#000" stroke-width="1.7" stroke-dasharray="5 4.2"/>
<line x1="513.96" y1="467.40" x2="540.14" y2="467.40" stroke="#000" stroke-width="1.7" stroke-dasharray="0.01 5.6" stroke-linecap="round"/>
<line x1="514.31" y1="400.00" x2="539.79" y2="400.00" stroke="#000" stroke-width="1.7" stroke-dasharray="0.01 5.6" stroke-linecap="round"/>
<circle cx="526.20" cy="332.80" r="3.9" fill="#fff" stroke="#f00" stroke-width="1.6"/>
<circle cx="520.40" cy="401.30" r="3.9" fill="#fff" stroke="#f00" stroke-width="1.6"/>
<circle cx="532.30" cy="399.90" r="3.9" fill="#fff" stroke="#f00" stroke-width="1.6"/>
<circle cx="520.40" cy="418.80" r="3.9" fill="#fff" stroke="#f00" stroke-width="1.6"/>
<circle cx="532.30" cy="425.80" r="3.9" fill="#fff" stroke="#f00" stroke-width="1.6"/>
<circle cx="514.30" cy="466.50" r="3.9" fill="#fff" stroke="#f00" stroke-width="1.6"/>
<circle cx="526.10" cy="468.00" r="3.9" fill="#fff" stroke="#f00" stroke-width="1.6"/>
<circle cx="538.40" cy="475.60" r="3.9" fill="#fff" stroke="#f00" stroke-width="1.6"/>
<path d="M576.60,421.00 C576.45,421.47 576.32,421.62 575.70,423.80 C575.08,425.98 573.72,430.65 572.90,434.10 C572.08,437.55 571.15,441.03 570.80,444.50 C570.45,447.97 570.42,451.43 570.80,454.90 C571.18,458.37 572.60,461.85 573.10,465.30 C573.60,468.75 574.05,473.15 573.80,475.60 C573.55,478.05 572.53,478.70 571.60,480.00 C570.67,481.30 569.53,481.97 568.20,483.40 C566.87,484.83 564.23,486.43 563.60,488.60 C562.97,490.77 563.57,494.23 564.40,496.40 C565.23,498.57 567.32,500.17 568.60,501.60 C569.88,503.03 571.02,503.70 572.10,505.00 C573.18,506.30 574.22,508.07 575.10,509.40 C575.98,510.73 576.87,511.72 577.40,513.00 C577.93,514.28 578.32,515.77 578.30,517.10 C578.28,518.43 577.73,519.70 577.30,521.00 C576.87,522.30 576.25,522.52 575.70,524.90 C575.15,527.28 574.18,532.62 574.00,535.30 C573.82,537.98 574.27,539.27 574.60,541.00 C574.93,542.73 575.67,544.27 576.00,545.70 C576.33,547.13 576.50,548.95 576.60,549.60 L582.60,549.60 C582.70,548.95 582.87,547.13 583.20,545.70 C583.53,544.27 584.27,542.73 584.60,541.00 C584.93,539.27 585.38,537.98 585.20,535.30 C585.02,532.62 584.05,527.28 583.50,524.90 C582.95,522.52 582.33,522.30 581.90,521.00 C581.47,519.70 580.92,518.43 580.90,517.10 C580.88,515.77 581.27,514.28 581.80,513.00 C582.33,511.72 583.22,510.73 584.10,509.40 C584.98,508.07 586.02,506.30 587.10,505.00 C588.18,503.70 589.32,503.03 590.60,501.60 C591.88,500.17 593.97,498.57 594.80,496.40 C595.63,494.23 596.23,490.77 595.60,488.60 C594.97,486.43 592.33,484.83 591.00,483.40 C589.67,481.97 588.53,481.30 587.60,480.00 C586.67,478.70 585.65,478.05 585.40,475.60 C585.15,473.15 585.60,468.75 586.10,465.30 C586.60,461.85 588.02,458.37 588.40,454.90 C588.78,451.43 588.75,447.97 588.40,444.50 C588.05,441.03 587.12,437.55 586.30,434.10 C585.48,430.65 584.12,425.98 583.50,423.80 C582.88,421.62 582.75,421.47 582.60,421.00 Z" fill="none" stroke="#000" stroke-width="2.0" stroke-linejoin="round"/>
<line x1="570.50" y1="482.60" x2="588.70" y2="482.60" stroke="#000" stroke-width="1.7" stroke-dasharray="5 4.2"/>
<line x1="574.04" y1="456.00" x2="586.66" y2="456.00" stroke="#000" stroke-width="1.7" stroke-dasharray="0.01 5.6" stroke-linecap="round"/>
<line x1="567.15" y1="494.00" x2="593.55" y2="494.00" stroke="#000" stroke-width="1.7" stroke-dasharray="0.01 5.6" stroke-linecap="round"/>
<rect x="578.40" y="420.80" width="7.2" height="7.2" fill="#fff" stroke="#00f" stroke-width="1.55"/>
<rect x="575.10" y="424.00" width="7.2" height="7.2" fill="#fff" stroke="#00f" stroke-width="1.55"/>
<rect x="572.80" y="436.30" width="7.2" height="7.2" fill="#fff" stroke="#00f" stroke-width="1.55"/>
<rect x="579.00" y="436.30" width="7.2" height="7.2" fill="#fff" stroke="#00f" stroke-width="1.55"/>
<rect x="573.30" y="445.20" width="7.2" height="7.2" fill="#fff" stroke="#00f" stroke-width="1.55"/>
<rect x="580.00" y="445.80" width="7.2" height="7.2" fill="#fff" stroke="#00f" stroke-width="1.55"/>
<rect x="569.90" y="453.40" width="7.2" height="7.2" fill="#fff" stroke="#00f" stroke-width="1.55"/>
<rect x="577.10" y="452.50" width="7.2" height="7.2" fill="#fff" stroke="#00f" stroke-width="1.55"/>
<rect x="582.80" y="452.50" width="7.2" height="7.2" fill="#fff" stroke="#00f" stroke-width="1.55"/>
<rect x="572.80" y="461.40" width="7.2" height="7.2" fill="#fff" stroke="#00f" stroke-width="1.55"/>
<rect x="579.00" y="461.40" width="7.2" height="7.2" fill="#fff" stroke="#00f" stroke-width="1.55"/>
<rect x="575.60" y="467.60" width="7.2" height="7.2" fill="#fff" stroke="#00f" stroke-width="1.55"/>
<rect x="574.70" y="474.30" width="7.2" height="7.2" fill="#fff" stroke="#00f" stroke-width="1.55"/>
<rect x="577.50" y="479.00" width="7.2" height="7.2" fill="#fff" stroke="#00f" stroke-width="1.55"/>
<rect x="566.10" y="484.70" width="7.2" height="7.2" fill="#fff" stroke="#00f" stroke-width="1.55"/>
<rect x="573.30" y="484.70" width="7.2" height="7.2" fill="#fff" stroke="#00f" stroke-width="1.55"/>
<rect x="586.00" y="485.10" width="7.2" height="7.2" fill="#fff" stroke="#00f" stroke-width="1.55"/>
<rect x="575.60" y="488.50" width="7.2" height="7.2" fill="#fff" stroke="#00f" stroke-width="1.55"/>
<rect x="583.20" y="490.40" width="7.2" height="7.2" fill="#fff" stroke="#00f" stroke-width="1.55"/>
<rect x="589.80" y="491.40" width="7.2" height="7.2" fill="#fff" stroke="#00f" stroke-width="1.55"/>
<rect x="563.30" y="494.20" width="7.2" height="7.2" fill="#fff" stroke="#00f" stroke-width="1.55"/>
<rect x="571.40" y="493.30" width="7.2" height="7.2" fill="#fff" stroke="#00f" stroke-width="1.55"/>
<rect x="572.80" y="529.30" width="7.2" height="7.2" fill="#fff" stroke="#00f" stroke-width="1.55"/>
<rect x="576.60" y="530.30" width="7.2" height="7.2" fill="#fff" stroke="#00f" stroke-width="1.55"/>
<rect x="579.80" y="534.40" width="7.2" height="7.2" fill="#fff" stroke="#00f" stroke-width="1.55"/>
<rect x="576.00" y="545.80" width="7.2" height="7.2" fill="#fff" stroke="#00f" stroke-width="1.55"/>
<text x="-0.90" y="615.00" font-size="23" fill="#000" font-weight="bold">g</text>
<text x="96.90" y="615.40" font-size="13.8" fill="#111" text-anchor="middle" textLength="42.50" lengthAdjust="spacingAndGlyphs">No-NIF</text>
<text x="97.10" y="630.80" font-size="13.8" fill="#111" text-anchor="middle" textLength="36.80" lengthAdjust="spacingAndGlyphs">n = 29</text>
<text x="218.20" y="616.00" font-size="13.8" fill="#111" text-anchor="middle" textLength="21.00" lengthAdjust="spacingAndGlyphs">NIF</text>
<text x="217.90" y="631.30" font-size="13.8" fill="#111" text-anchor="middle" textLength="29.70" lengthAdjust="spacingAndGlyphs">n = 8</text>
<line x1="49.50" y1="630.80" x2="49.50" y2="855.90" stroke="#262626" stroke-width="1.2"/>
<line x1="48.90" y1="855.30" x2="272.80" y2="855.30" stroke="#262626" stroke-width="1.3"/>
<text x="46.90" y="634.70" font-size="11.4" fill="#1a1a1a" text-anchor="end" textLength="41.80" lengthAdjust="spacingAndGlyphs">0.000001</text>
<text x="46.90" y="709.90" font-size="11.4" fill="#1a1a1a" text-anchor="end" textLength="31.00" lengthAdjust="spacingAndGlyphs">0.0001</text>
<text x="46.90" y="784.80" font-size="11.4" fill="#1a1a1a" text-anchor="end" textLength="20.30" lengthAdjust="spacingAndGlyphs">0.01</text>
<text x="46.90" y="859.00" font-size="11.4" fill="#1a1a1a" text-anchor="end" textLength="4.30" lengthAdjust="spacingAndGlyphs">1</text>
<line x1="48.00" y1="631.60" x2="49.50" y2="631.60" stroke="#262626" stroke-width="1.0"/>
<line x1="48.00" y1="706.00" x2="49.50" y2="706.00" stroke="#262626" stroke-width="1.0"/>
<line x1="48.00" y1="780.30" x2="49.50" y2="780.30" stroke="#262626" stroke-width="1.0"/>
<line x1="49.40" y1="855.30" x2="49.40" y2="858.30" stroke="#262626" stroke-width="1.0"/>
<line x1="105.20" y1="855.30" x2="105.20" y2="858.30" stroke="#262626" stroke-width="1.0"/>
<line x1="161.00" y1="855.30" x2="161.00" y2="858.30" stroke="#262626" stroke-width="1.0"/>
<line x1="216.80" y1="855.30" x2="216.80" y2="858.30" stroke="#262626" stroke-width="1.0"/>
<line x1="272.60" y1="855.30" x2="272.60" y2="858.30" stroke="#262626" stroke-width="1.0"/>
<text x="47.65" y="869.90" font-size="11.6" fill="#1a1a1a" text-anchor="middle" textLength="8.50" lengthAdjust="spacingAndGlyphs">-4</text>
<text x="103.95" y="869.90" font-size="11.6" fill="#1a1a1a" text-anchor="middle" textLength="8.30" lengthAdjust="spacingAndGlyphs">-2</text>
<text x="161.30" y="869.90" font-size="11.6" fill="#1a1a1a" text-anchor="middle" textLength="6.60" lengthAdjust="spacingAndGlyphs">0</text>
<text x="217.50" y="869.90" font-size="11.6" fill="#1a1a1a" text-anchor="middle" textLength="6.60" lengthAdjust="spacingAndGlyphs">2</text>
<text x="271.80" y="869.90" font-size="11.6" fill="#1a1a1a" text-anchor="middle" textLength="6.80" lengthAdjust="spacingAndGlyphs">4</text>
<text x="164.20" y="887.10" font-size="13.6" fill="#111" text-anchor="middle" textLength="99.50" lengthAdjust="spacingAndGlyphs">log2(fold change )</text>
<text x="13.40" y="745.40" font-size="13.6" fill="#111" text-anchor="middle" textLength="52.50" lengthAdjust="spacingAndGlyphs" transform="rotate(-90 13.40 745.40)">P value</text>
<line x1="145.50" y1="631.00" x2="145.50" y2="855.00" stroke="#111" stroke-width="1.2" stroke-dasharray="1.3 1.7"/>
<line x1="178.00" y1="631.00" x2="178.00" y2="855.00" stroke="#111" stroke-width="1.2" stroke-dasharray="1.3 1.7"/>
<line x1="52.00" y1="806.50" x2="272.50" y2="806.50" stroke="#111" stroke-width="1.2" stroke-dasharray="1.3 1.7"/>
<polygon points="136.2,809.5 139.5,808.5 143.3,809.0 147.1,808.1 150.4,807.1 153.2,808.5 154.7,811.4 157.5,813.3 159.4,816.6 159.9,821.8 160.4,826.6 161.3,830.4 162.7,831.3 163.7,829.4 163.7,822.8 164.6,818.0 165.6,811.4 166.5,808.5 169.8,807.1 174.6,806.2 179.3,807.6 183.1,808.1 184.6,810.4 183.1,813.3 181.2,816.1 181.7,821.8 180.3,825.6 181.7,828.5 179.8,831.3 175.5,832.3 174.6,838.0 171.7,842.7 168.9,848.4 166.1,853.1 162.7,857.4 160.4,857.4 157.5,854.1 153.7,849.3 149.0,844.6 144.2,841.7 142.3,839.8 143.3,836.1 142.3,833.2 143.3,830.4 139.5,829.9 134.7,828.5 133.3,826.6 134.7,824.2 138.5,823.7 142.3,824.7 143.3,821.8 142.3,819.0 138.5,819.0 136.2,817.1 136.6,813.3" fill="#9a9a9a" stroke="#9a9a9a" stroke-width="1.6" stroke-linejoin="round"/>
<circle cx="124.6" cy="813.7" r="2.8" fill="#9a9a9a"/>
<circle cx="130.4" cy="819.1" r="2.8" fill="#9a9a9a"/>
<circle cx="129" cy="821.3" r="2.8" fill="#9a9a9a"/>
<circle cx="131" cy="819.5" r="2.8" fill="#9a9a9a"/>
<circle cx="110.0" cy="837.0" r="2.8" fill="#9a9a9a"/>
<circle cx="78.3" cy="830.1" r="2.8" fill="#9a9a9a"/>
<circle cx="83.1" cy="824.7" r="2.8" fill="#9a9a9a"/>
<circle cx="191.7" cy="811.9" r="2.8" fill="#9a9a9a"/>
<circle cx="190.7" cy="818.5" r="2.8" fill="#9a9a9a"/>
<circle cx="187.9" cy="821.8" r="2.8" fill="#9a9a9a"/>
<circle cx="178.4" cy="837.5" r="2.8" fill="#9a9a9a"/>
<circle cx="181.5" cy="809.6" r="2.8" fill="#9a9a9a"/>
<circle cx="108.2" cy="744.2" r="1.35" fill="#00f"/>
<circle cx="151.1" cy="733.8" r="1.35" fill="#00f"/>
<circle cx="141.2" cy="746.8" r="1.35" fill="#00f"/>
<circle cx="129.9" cy="752.5" r="1.35" fill="#00f"/>
<circle cx="126.9" cy="754.7" r="1.35" fill="#00f"/>
<circle cx="150.8" cy="751.9" r="1.35" fill="#00f"/>
<circle cx="152.1" cy="764.2" r="1.35" fill="#00f"/>
<circle cx="147.8" cy="769.6" r="1.35" fill="#00f"/>
<circle cx="148.5" cy="772.1" r="1.35" fill="#00f"/>
<circle cx="144.8" cy="773.3" r="1.35" fill="#00f"/>
<circle cx="118.2" cy="778.5" r="1.35" fill="#00f"/>
<circle cx="152.6" cy="777.4" r="1.35" fill="#00f"/>
<circle cx="154.2" cy="784.6" r="1.35" fill="#00f"/>
<circle cx="151.9" cy="787.2" r="1.35" fill="#00f"/>
<circle cx="155.7" cy="790.3" r="1.35" fill="#00f"/>
<circle cx="117.6" cy="793.4" r="1.35" fill="#00f"/>
<circle cx="133.7" cy="791" r="1.35" fill="#00f"/>
<circle cx="136.3" cy="796.4" r="1.35" fill="#00f"/>
<circle cx="130.5" cy="799.2" r="1.35" fill="#00f"/>
<circle cx="136" cy="799.9" r="1.35" fill="#00f"/>
<circle cx="134.2" cy="802.3" r="1.35" fill="#00f"/>
<circle cx="132.9" cy="804" r="1.35" fill="#00f"/>
<circle cx="138.5" cy="804.3" r="1.35" fill="#00f"/>
<circle cx="153.1" cy="794.1" r="1.35" fill="#00f"/>
<circle cx="154.2" cy="795.6" r="1.35" fill="#00f"/>
<circle cx="152.6" cy="796.6" r="1.35" fill="#00f"/>
<circle cx="154" cy="800.7" r="1.35" fill="#00f"/>
<circle cx="148" cy="799.2" r="1.35" fill="#00f"/>
<circle cx="150.1" cy="799.7" r="1.35" fill="#00f"/>
<circle cx="148.8" cy="801.7" r="1.35" fill="#00f"/>
<circle cx="146.5" cy="803.6" r="1.35" fill="#00f"/>
<circle cx="150.6" cy="803.8" r="1.35" fill="#00f"/>
<circle cx="148" cy="805.8" r="1.35" fill="#00f"/>
<circle cx="247.9" cy="632.6" r="1.3" fill="#f00"/>
<circle cx="199.8" cy="644.9" r="1.3" fill="#f00"/>
<circle cx="201.4" cy="648.3" r="1.3" fill="#f00"/>
<circle cx="198.8" cy="652.3" r="1.3" fill="#f00"/>
<circle cx="191.4" cy="654.4" r="1.3" fill="#f00"/>
<circle cx="193.0" cy="658.3" r="1.3" fill="#f00"/>
<circle cx="200.6" cy="665.7" r="1.3" fill="#f00"/>
<circle cx="202.5" cy="665.7" r="1.3" fill="#f00"/>
<circle cx="229.5" cy="664.9" r="1.3" fill="#f00"/>
<circle cx="191.4" cy="670.7" r="1.3" fill="#f00"/>
<circle cx="219.3" cy="679.3" r="1.3" fill="#f00"/>
<circle cx="203.0" cy="683.8" r="1.3" fill="#f00"/>
<circle cx="203.3" cy="692.2" r="1.3" fill="#f00"/>
<circle cx="217.7" cy="696.2" r="1.3" fill="#f00"/>
<circle cx="182.0" cy="697.0" r="1.3" fill="#f00"/>
<circle cx="178.8" cy="705.4" r="1.3" fill="#f00"/>
<circle cx="183.0" cy="705.4" r="1.3" fill="#f00"/>
<circle cx="185.9" cy="706.1" r="1.3" fill="#f00"/>
<circle cx="189.3" cy="707.5" r="1.3" fill="#f00"/>
<circle cx="173.6" cy="708.5" r="1.3" fill="#f00"/>
<circle cx="177.0" cy="709.8" r="1.3" fill="#f00"/>
<circle cx="190.6" cy="712.2" r="1.3" fill="#f00"/>
<circle cx="193.8" cy="711.9" r="1.3" fill="#f00"/>
<circle cx="208.5" cy="717.2" r="1.3" fill="#f00"/>
<circle cx="173.2" cy="708.6" r="1.3" fill="#f00"/>
<circle cx="177.1" cy="709.3" r="1.3" fill="#f00"/>
<circle cx="180.7" cy="715.2" r="1.3" fill="#f00"/>
<circle cx="189.0" cy="707.4" r="1.3" fill="#f00"/>
<circle cx="185.7" cy="705.4" r="1.3" fill="#f00"/>
<circle cx="188.7" cy="712.9" r="1.3" fill="#f00"/>
<circle cx="195.0" cy="711.9" r="1.3" fill="#f00"/>
<circle cx="208.6" cy="717.3" r="1.3" fill="#f00"/>
<circle cx="184.5" cy="720.8" r="1.3" fill="#f00"/>
<circle cx="192.3" cy="720.2" r="1.3" fill="#f00"/>
<circle cx="185.1" cy="722.6" r="1.3" fill="#f00"/>
<circle cx="191.7" cy="725.6" r="1.3" fill="#f00"/>
<circle cx="194.6" cy="727.4" r="1.3" fill="#f00"/>
<circle cx="211.9" cy="728.3" r="1.3" fill="#f00"/>
<circle cx="182.1" cy="726.8" r="1.3" fill="#f00"/>
<circle cx="178.3" cy="728.6" r="1.3" fill="#f00"/>
<circle cx="185.1" cy="729.2" r="1.3" fill="#f00"/>
<circle cx="183.3" cy="732.1" r="1.3" fill="#f00"/>
<circle cx="185.7" cy="732.1" r="1.3" fill="#f00"/>
<circle cx="184.5" cy="734.5" r="1.3" fill="#f00"/>
<circle cx="178.3" cy="735.7" r="1.3" fill="#f00"/>
<circle cx="186.9" cy="738.1" r="1.3" fill="#f00"/>
<circle cx="191.1" cy="738.1" r="1.3" fill="#f00"/>
<circle cx="197.0" cy="741.1" r="1.3" fill="#f00"/>
<circle cx="199.8" cy="739.0" r="1.3" fill="#f00"/>
<circle cx="203.3" cy="739.3" r="1.3" fill="#f00"/>
<circle cx="181.0" cy="740.5" r="1.3" fill="#f00"/>
<circle cx="183.3" cy="743.5" r="1.3" fill="#f00"/>
<circle cx="181.5" cy="744.6" r="1.3" fill="#f00"/>
<circle cx="191.1" cy="745.2" r="1.3" fill="#f00"/>
<circle cx="173.2" cy="748.8" r="1.3" fill="#f00"/>
<circle cx="179.2" cy="748.2" r="1.3" fill="#f00"/>
<circle cx="181.5" cy="748.2" r="1.3" fill="#f00"/>
<circle cx="185.7" cy="748.8" r="1.3" fill="#f00"/>
<circle cx="188.1" cy="750.6" r="1.3" fill="#f00"/>
<circle cx="189.3" cy="751.2" r="1.3" fill="#f00"/>
<circle cx="187.5" cy="752.4" r="1.3" fill="#f00"/>
<circle cx="191.7" cy="752.4" r="1.3" fill="#f00"/>
<circle cx="198.2" cy="750.6" r="1.3" fill="#f00"/>
<circle cx="201.8" cy="753.8" r="1.3" fill="#f00"/>
<circle cx="173.2" cy="756.9" r="1.3" fill="#f00"/>
<circle cx="174.4" cy="758.9" r="1.3" fill="#f00"/>
<circle cx="178.6" cy="756.9" r="1.3" fill="#f00"/>
<circle cx="182.1" cy="756.9" r="1.3" fill="#f00"/>
<circle cx="185.7" cy="755.0" r="1.3" fill="#f00"/>
<circle cx="188.1" cy="757.7" r="1.3" fill="#f00"/>
<circle cx="179.8" cy="760.1" r="1.3" fill="#f00"/>
<circle cx="183.3" cy="760.7" r="1.3" fill="#f00"/>
<circle cx="186.9" cy="760.1" r="1.3" fill="#f00"/>
<circle cx="172.0" cy="761.9" r="1.3" fill="#f00"/>
<circle cx="169.6" cy="764.3" r="1.3" fill="#f00"/>
<circle cx="178.0" cy="764.3" r="1.3" fill="#f00"/>
<circle cx="182.1" cy="764.3" r="1.3" fill="#f00"/>
<circle cx="184.5" cy="764.9" r="1.3" fill="#f00"/>
<circle cx="198.2" cy="761.3" r="1.3" fill="#f00"/>
<circle cx="178.0" cy="767.9" r="1.3" fill="#f00"/>
<circle cx="183.3" cy="767.3" r="1.3" fill="#f00"/>
<circle cx="191.7" cy="767.9" r="1.3" fill="#f00"/>
<circle cx="176.2" cy="771.4" r="1.3" fill="#f00"/>
<circle cx="181.0" cy="771.4" r="1.3" fill="#f00"/>
<circle cx="183.9" cy="770.8" r="1.3" fill="#f00"/>
<circle cx="189.9" cy="772.6" r="1.3" fill="#f00"/>
<circle cx="174.4" cy="775.0" r="1.3" fill="#f00"/>
<circle cx="176.8" cy="775.6" r="1.3" fill="#f00"/>
<circle cx="178.6" cy="774.4" r="1.3" fill="#f00"/>
<circle cx="181.5" cy="773.8" r="1.3" fill="#f00"/>
<circle cx="185.7" cy="776.2" r="1.3" fill="#f00"/>
<circle cx="197.0" cy="778.6" r="1.3" fill="#f00"/>
<circle cx="201.8" cy="777.4" r="1.3" fill="#f00"/>
<circle cx="193.5" cy="779.8" r="1.3" fill="#f00"/>
<circle cx="169.6" cy="781.2" r="1.3" fill="#f00"/>
<circle cx="173.2" cy="779.8" r="1.3" fill="#f00"/>
<circle cx="175.6" cy="782.1" r="1.3" fill="#f00"/>
<circle cx="178.6" cy="781.0" r="1.3" fill="#f00"/>
<circle cx="183.9" cy="782.1" r="1.3" fill="#f00"/>
<circle cx="188.1" cy="781.5" r="1.3" fill="#f00"/>
<circle cx="173.2" cy="784.5" r="1.3" fill="#f00"/>
<circle cx="181.0" cy="785.7" r="1.3" fill="#f00"/>
<circle cx="167.3" cy="788.1" r="1.3" fill="#f00"/>
<circle cx="171.4" cy="788.1" r="1.3" fill="#f00"/>
<circle cx="174.4" cy="787.5" r="1.3" fill="#f00"/>
<circle cx="181.5" cy="788.7" r="1.3" fill="#f00"/>
<circle cx="185.1" cy="788.1" r="1.3" fill="#f00"/>
<circle cx="194.0" cy="787.5" r="1.3" fill="#f00"/>
<circle cx="168.5" cy="791.7" r="1.3" fill="#f00"/>
<circle cx="172.6" cy="791.7" r="1.3" fill="#f00"/>
<circle cx="175.6" cy="793.5" r="1.3" fill="#f00"/>
<circle cx="179.2" cy="794.0" r="1.3" fill="#f00"/>
<circle cx="182.7" cy="792.9" r="1.3" fill="#f00"/>
<circle cx="185.7" cy="791.7" r="1.3" fill="#f00"/>
<circle cx="189.3" cy="793.5" r="1.3" fill="#f00"/>
<circle cx="169.0" cy="796.4" r="1.3" fill="#f00"/>
<circle cx="173.2" cy="797.0" r="1.3" fill="#f00"/>
<circle cx="177.4" cy="796.4" r="1.3" fill="#f00"/>
<circle cx="181.5" cy="795.2" r="1.3" fill="#f00"/>
<circle cx="184.5" cy="796.4" r="1.3" fill="#f00"/>
<circle cx="167.9" cy="800.0" r="1.3" fill="#f00"/>
<circle cx="171.4" cy="801.2" r="1.3" fill="#f00"/>
<circle cx="175.6" cy="800.6" r="1.3" fill="#f00"/>
<circle cx="178.6" cy="801.8" r="1.3" fill="#f00"/>
<circle cx="182.7" cy="800.0" r="1.3" fill="#f00"/>
<circle cx="185.7" cy="801.2" r="1.3" fill="#f00"/>
<circle cx="167.9" cy="804.2" r="1.3" fill="#f00"/>
<circle cx="172.0" cy="803.6" r="1.3" fill="#f00"/>
<circle cx="177.4" cy="803.6" r="1.3" fill="#f00"/>
<circle cx="188.1" cy="804.8" r="1.3" fill="#f00"/>
<circle cx="169.0" cy="806.0" r="1.3" fill="#f00"/>
<circle cx="173.6" cy="763.3" r="1.3" fill="#f00"/>
<circle cx="175.7" cy="783.8" r="1.3" fill="#f00"/>
<circle cx="177.7" cy="785.0" r="1.3" fill="#f00"/>
<circle cx="177.4" cy="796.9" r="1.3" fill="#f00"/>
<circle cx="178.2" cy="764.5" r="1.3" fill="#f00"/>
<circle cx="191.5" cy="776.3" r="1.3" fill="#f00"/>
<circle cx="169.2" cy="796.8" r="1.3" fill="#f00"/>
<circle cx="177.7" cy="758.4" r="1.3" fill="#f00"/>
<circle cx="181.0" cy="785.6" r="1.3" fill="#f00"/>
<circle cx="172.3" cy="791.5" r="1.3" fill="#f00"/>
<circle cx="184.8" cy="787.6" r="1.3" fill="#f00"/>
<circle cx="180.1" cy="783.1" r="1.3" fill="#f00"/>
<circle cx="184.7" cy="766.9" r="1.3" fill="#f00"/>
<circle cx="178.7" cy="776.5" r="1.3" fill="#f00"/>
<circle cx="182.9" cy="790.3" r="1.3" fill="#f00"/>
<circle cx="170.7" cy="801.6" r="1.3" fill="#f00"/>
<circle cx="178.4" cy="772.1" r="1.3" fill="#f00"/>
<circle cx="171.0" cy="802.4" r="1.3" fill="#f00"/>
<circle cx="179.5" cy="799.2" r="1.3" fill="#f00"/>
<circle cx="178.1" cy="762.2" r="1.3" fill="#f00"/>
<circle cx="169.4" cy="804.1" r="1.3" fill="#f00"/>
<circle cx="179.1" cy="766.9" r="1.3" fill="#f00"/>
<circle cx="173.8" cy="778.4" r="1.3" fill="#f00"/>
<circle cx="179.9" cy="782.8" r="1.3" fill="#f00"/>
<circle cx="182.9" cy="782.7" r="1.3" fill="#f00"/>
<circle cx="172.0" cy="802.0" r="1.3" fill="#f00"/>
<circle cx="185.3" cy="798.0" r="1.3" fill="#f00"/>
<circle cx="176.7" cy="759.1" r="1.3" fill="#f00"/>
<circle cx="188.8" cy="798.2" r="1.3" fill="#f00"/>
<circle cx="174.8" cy="781.9" r="1.3" fill="#f00"/>
<circle cx="179.3" cy="790.0" r="1.3" fill="#f00"/>
<circle cx="185.6" cy="782.1" r="1.3" fill="#f00"/>
<circle cx="184.0" cy="766.0" r="1.3" fill="#f00"/>
<circle cx="181.5" cy="805.4" r="1.3" fill="#f00"/>
<circle cx="178.0" cy="755.0" r="1.3" fill="#f00"/>
<text x="190.60" y="701.40" font-size="8.8" fill="#000" font-weight="bold" textLength="17.10" lengthAdjust="spacingAndGlyphs" stroke="#000" stroke-width="0.3">CD14</text>
<text x="168.80" y="706.10" font-size="8.8" fill="#000" font-weight="bold" textLength="21.80" lengthAdjust="spacingAndGlyphs" stroke="#000" stroke-width="0.3">STAT1</text>
<text x="208.50" y="705.90" font-size="8.8" fill="#000" font-weight="bold" textLength="25.50" lengthAdjust="spacingAndGlyphs" stroke="#000" stroke-width="0.3">EOMES</text>
<text x="192.70" y="712.40" font-size="8.8" fill="#000" font-weight="bold" textLength="23.70" lengthAdjust="spacingAndGlyphs" stroke="#000" stroke-width="0.3">IL17RA</text>
<text x="220.30" y="715.30" font-size="8.8" fill="#000" font-weight="bold" textLength="22.40" lengthAdjust="spacingAndGlyphs" stroke="#000" stroke-width="0.3">TGFB1</text>
<text x="163.00" y="718.50" font-size="8.8" fill="#000" font-weight="bold" textLength="21.60" lengthAdjust="spacingAndGlyphs" stroke="#000" stroke-width="0.3">CD274</text>
<text x="185.40" y="720.00" font-size="8.8" fill="#000" font-weight="bold" textLength="19.20" lengthAdjust="spacingAndGlyphs" stroke="#000" stroke-width="0.3">LAG3</text>
<text x="195.20" y="730.20" font-size="8.8" fill="#000" font-weight="bold" textLength="17.40" lengthAdjust="spacingAndGlyphs" stroke="#000" stroke-width="0.3">IFNG</text>
<text x="203.00" y="739.40" font-size="8.8" fill="#000" font-weight="bold" textLength="22.80" lengthAdjust="spacingAndGlyphs" stroke="#000" stroke-width="0.3">CXCL9</text>
<text x="212.60" y="748.00" font-size="8.8" fill="#000" font-weight="bold" textLength="17.70" lengthAdjust="spacingAndGlyphs" stroke="#000" stroke-width="0.3">CD68</text>
<text x="192.70" y="753.50" font-size="8.8" fill="#000" font-weight="bold" textLength="18.80" lengthAdjust="spacingAndGlyphs" stroke="#000" stroke-width="0.3">BATF</text>
<text x="205.80" y="761.70" font-size="8.8" fill="#000" font-weight="bold" textLength="21.70" lengthAdjust="spacingAndGlyphs" stroke="#000" stroke-width="0.3">ITGAX</text>
<text x="197.60" y="769.10" font-size="8.8" fill="#000" font-weight="bold" textLength="17.60" lengthAdjust="spacingAndGlyphs" stroke="#000" stroke-width="0.3">CD47</text>
<text x="162.90" y="774.60" font-size="8.8" fill="#000" font-weight="bold" textLength="15.50" lengthAdjust="spacingAndGlyphs" stroke="#000" stroke-width="0.3">IRF8</text>
<text x="190.10" y="777.30" font-size="8.8" fill="#000" font-weight="bold" textLength="22.50" lengthAdjust="spacingAndGlyphs" stroke="#000" stroke-width="0.3">ITGAM</text>
<text x="190.10" y="797.70" font-size="8.8" fill="#000" font-weight="bold" textLength="16.30" lengthAdjust="spacingAndGlyphs" stroke="#000" stroke-width="0.3">IDO1</text>
<text x="190.10" y="805.90" font-size="8.8" fill="#000" font-weight="bold" textLength="22.50" lengthAdjust="spacingAndGlyphs" stroke="#000" stroke-width="0.3">PDCD1</text>
<text x="298.80" y="615.20" font-size="23" fill="#000" font-weight="bold">h</text>
<text x="323.10" y="614.90" font-size="13.8" fill="#111" textLength="351.90" lengthAdjust="spacingAndGlyphs">Differentially regulated pathways in nodes of NIF vs. No-NIF</text>
<rect x="576.00" y="638.80" width="71.20" height="14.4" fill="#ff8583" stroke="#f00" stroke-width="1.8"/>
<line x1="464.10" y1="646.60" x2="468.70" y2="646.60" stroke="#262626" stroke-width="1.1"/>
<text x="270.60" y="650.80" font-size="10.4" fill="#111" font-weight="bold" textLength="192.40" lengthAdjust="spacingAndGlyphs" stroke="#111" stroke-width="0.25">MICROGLIA_PATHOGEN_PHAGOCYTOSIS_PATHWAY</text>
<rect x="576.00" y="666.50" width="67.40" height="14.4" fill="#ff8583" stroke="#f00" stroke-width="1.8"/>
<line x1="464.10" y1="674.30" x2="468.70" y2="674.30" stroke="#262626" stroke-width="1.1"/>
<text x="285.00" y="678.50" font-size="10.4" fill="#111" font-weight="bold" textLength="178.00" lengthAdjust="spacingAndGlyphs" stroke="#111" stroke-width="0.25">ANTIGEN_PROCESSING_CROSS_PRESENTATION</text>
<rect x="576.00" y="694.20" width="64.50" height="14.4" fill="#ff8583" stroke="#f00" stroke-width="1.8"/>
<line x1="464.10" y1="702.00" x2="468.70" y2="702.00" stroke="#262626" stroke-width="1.1"/>
<text x="317.20" y="706.20" font-size="10.4" fill="#111" font-weight="bold" textLength="145.80" lengthAdjust="spacingAndGlyphs" stroke="#111" stroke-width="0.25">TYPE_II_INTERFERON_SIGNALING_IFNG</text>
<rect x="576.00" y="721.90" width="62.70" height="14.4" fill="#ff8583" stroke="#f00" stroke-width="1.8"/>
<line x1="464.10" y1="729.70" x2="468.70" y2="729.70" stroke="#262626" stroke-width="1.1"/>
<text x="291.50" y="733.90" font-size="10.4" fill="#111" font-weight="bold" textLength="171.50" lengthAdjust="spacingAndGlyphs" stroke="#111" stroke-width="0.25">HALLMARK_INTERFERON_GAMMA_RESPONSE</text>
<rect x="576.00" y="749.60" width="62.80" height="14.4" fill="#ff8583" stroke="#f00" stroke-width="1.8"/>
<line x1="464.10" y1="757.40" x2="468.70" y2="757.40" stroke="#262626" stroke-width="1.1"/>
<text x="355.70" y="761.60" font-size="10.4" fill="#111" font-weight="bold" textLength="107.30" lengthAdjust="spacingAndGlyphs" stroke="#111" stroke-width="0.25">TYROBP_CAUSAL_NETWORK</text>
<rect x="506.30" y="777.30" width="69.70" height="14.4" fill="#6a7bff" stroke="#00f" stroke-width="1.8"/>
<line x1="464.10" y1="785.10" x2="468.70" y2="785.10" stroke="#262626" stroke-width="1.1"/>
<text x="341.90" y="789.30" font-size="10.4" fill="#111" font-weight="bold" textLength="121.10" lengthAdjust="spacingAndGlyphs" stroke="#111" stroke-width="0.25">TGFBETA_SIGNALING_PATHWAY</text>
<rect x="501.60" y="805.00" width="74.40" height="14.4" fill="#6a7bff" stroke="#00f" stroke-width="1.8"/>
<line x1="464.10" y1="812.80" x2="468.70" y2="812.80" stroke="#262626" stroke-width="1.1"/>
<text x="313.00" y="817.00" font-size="10.4" fill="#111" font-weight="bold" textLength="150.00" lengthAdjust="spacingAndGlyphs" stroke="#111" stroke-width="0.25">NUCLEAR_KINASE_AND_TF_ACTIVATION</text>
<rect x="499.60" y="832.70" width="76.40" height="14.4" fill="#6a7bff" stroke="#00f" stroke-width="1.8"/>
<line x1="464.10" y1="840.50" x2="468.70" y2="840.50" stroke="#262626" stroke-width="1.1"/>
<text x="351.50" y="844.70" font-size="10.4" fill="#111" font-weight="bold" textLength="111.50" lengthAdjust="spacingAndGlyphs" stroke="#111" stroke-width="0.25">SMAD2_3NUCLEAR_PATHWAY</text>
<line x1="468.70" y1="627.30" x2="468.70" y2="856.60" stroke="#262626" stroke-width="1.2"/>
<line x1="576.00" y1="627.30" x2="576.00" y2="856.00" stroke="#333" stroke-width="1.5"/>
<line x1="468.10" y1="856.00" x2="683.60" y2="856.00" stroke="#262626" stroke-width="1.3"/>
<line x1="468.90" y1="856.00" x2="468.90" y2="862.20" stroke="#262626" stroke-width="1.1"/>
<text x="467.90" y="878.30" font-size="11.3" fill="#1a1a1a" text-anchor="middle" textLength="7.90" lengthAdjust="spacingAndGlyphs">-3</text>
<line x1="504.60" y1="856.00" x2="504.60" y2="862.20" stroke="#262626" stroke-width="1.1"/>
<text x="503.60" y="878.30" font-size="11.3" fill="#1a1a1a" text-anchor="middle" textLength="7.90" lengthAdjust="spacingAndGlyphs">-2</text>
<line x1="540.30" y1="856.00" x2="540.30" y2="862.20" stroke="#262626" stroke-width="1.1"/>
<text x="539.30" y="878.30" font-size="11.3" fill="#1a1a1a" text-anchor="middle" textLength="7.90" lengthAdjust="spacingAndGlyphs">-1</text>
<line x1="576.00" y1="856.00" x2="576.00" y2="862.20" stroke="#262626" stroke-width="1.1"/>
<text x="576.00" y="878.30" font-size="11.3" fill="#1a1a1a" text-anchor="middle" textLength="4.60" lengthAdjust="spacingAndGlyphs">0</text>
<line x1="611.70" y1="856.00" x2="611.70" y2="862.20" stroke="#262626" stroke-width="1.1"/>
<text x="611.70" y="878.30" font-size="11.3" fill="#1a1a1a" text-anchor="middle" textLength="4.60" lengthAdjust="spacingAndGlyphs">1</text>
<line x1="647.40" y1="856.00" x2="647.40" y2="862.20" stroke="#262626" stroke-width="1.1"/>
<text x="647.40" y="878.30" font-size="11.3" fill="#1a1a1a" text-anchor="middle" textLength="4.60" lengthAdjust="spacingAndGlyphs">2</text>
<line x1="683.10" y1="856.00" x2="683.10" y2="862.20" stroke="#262626" stroke-width="1.1"/>
<text x="683.10" y="878.30" font-size="11.3" fill="#1a1a1a" text-anchor="middle" textLength="4.60" lengthAdjust="spacingAndGlyphs">3</text>
<text x="575.60" y="896.50" font-size="16.0" fill="#111" text-anchor="middle" textLength="22.10" lengthAdjust="spacingAndGlyphs">NES</text>
<line x1="476.00" y1="901.50" x2="571.60" y2="901.50" stroke="#111" stroke-width="1.3"/>
<path d="M471.3,901.5 L478.5,897.9 L478.5,905.1 Z" fill="#111"/>
<line x1="578.80" y1="901.50" x2="674.00" y2="901.50" stroke="#111" stroke-width="1.3"/>
<path d="M679.0,901.5 L671.8,897.9 L671.8,905.1 Z" fill="#111"/>
<text x="456.10" y="921.00" font-size="12.8" fill="#111" textLength="116.90" lengthAdjust="spacingAndGlyphs">Downregulated  in NIF</text>
<text x="580.20" y="921.00" font-size="12.8" fill="#111" textLength="100.10" lengthAdjust="spacingAndGlyphs">Upregulated  in NIF</text>
</svg>
</body></html>
